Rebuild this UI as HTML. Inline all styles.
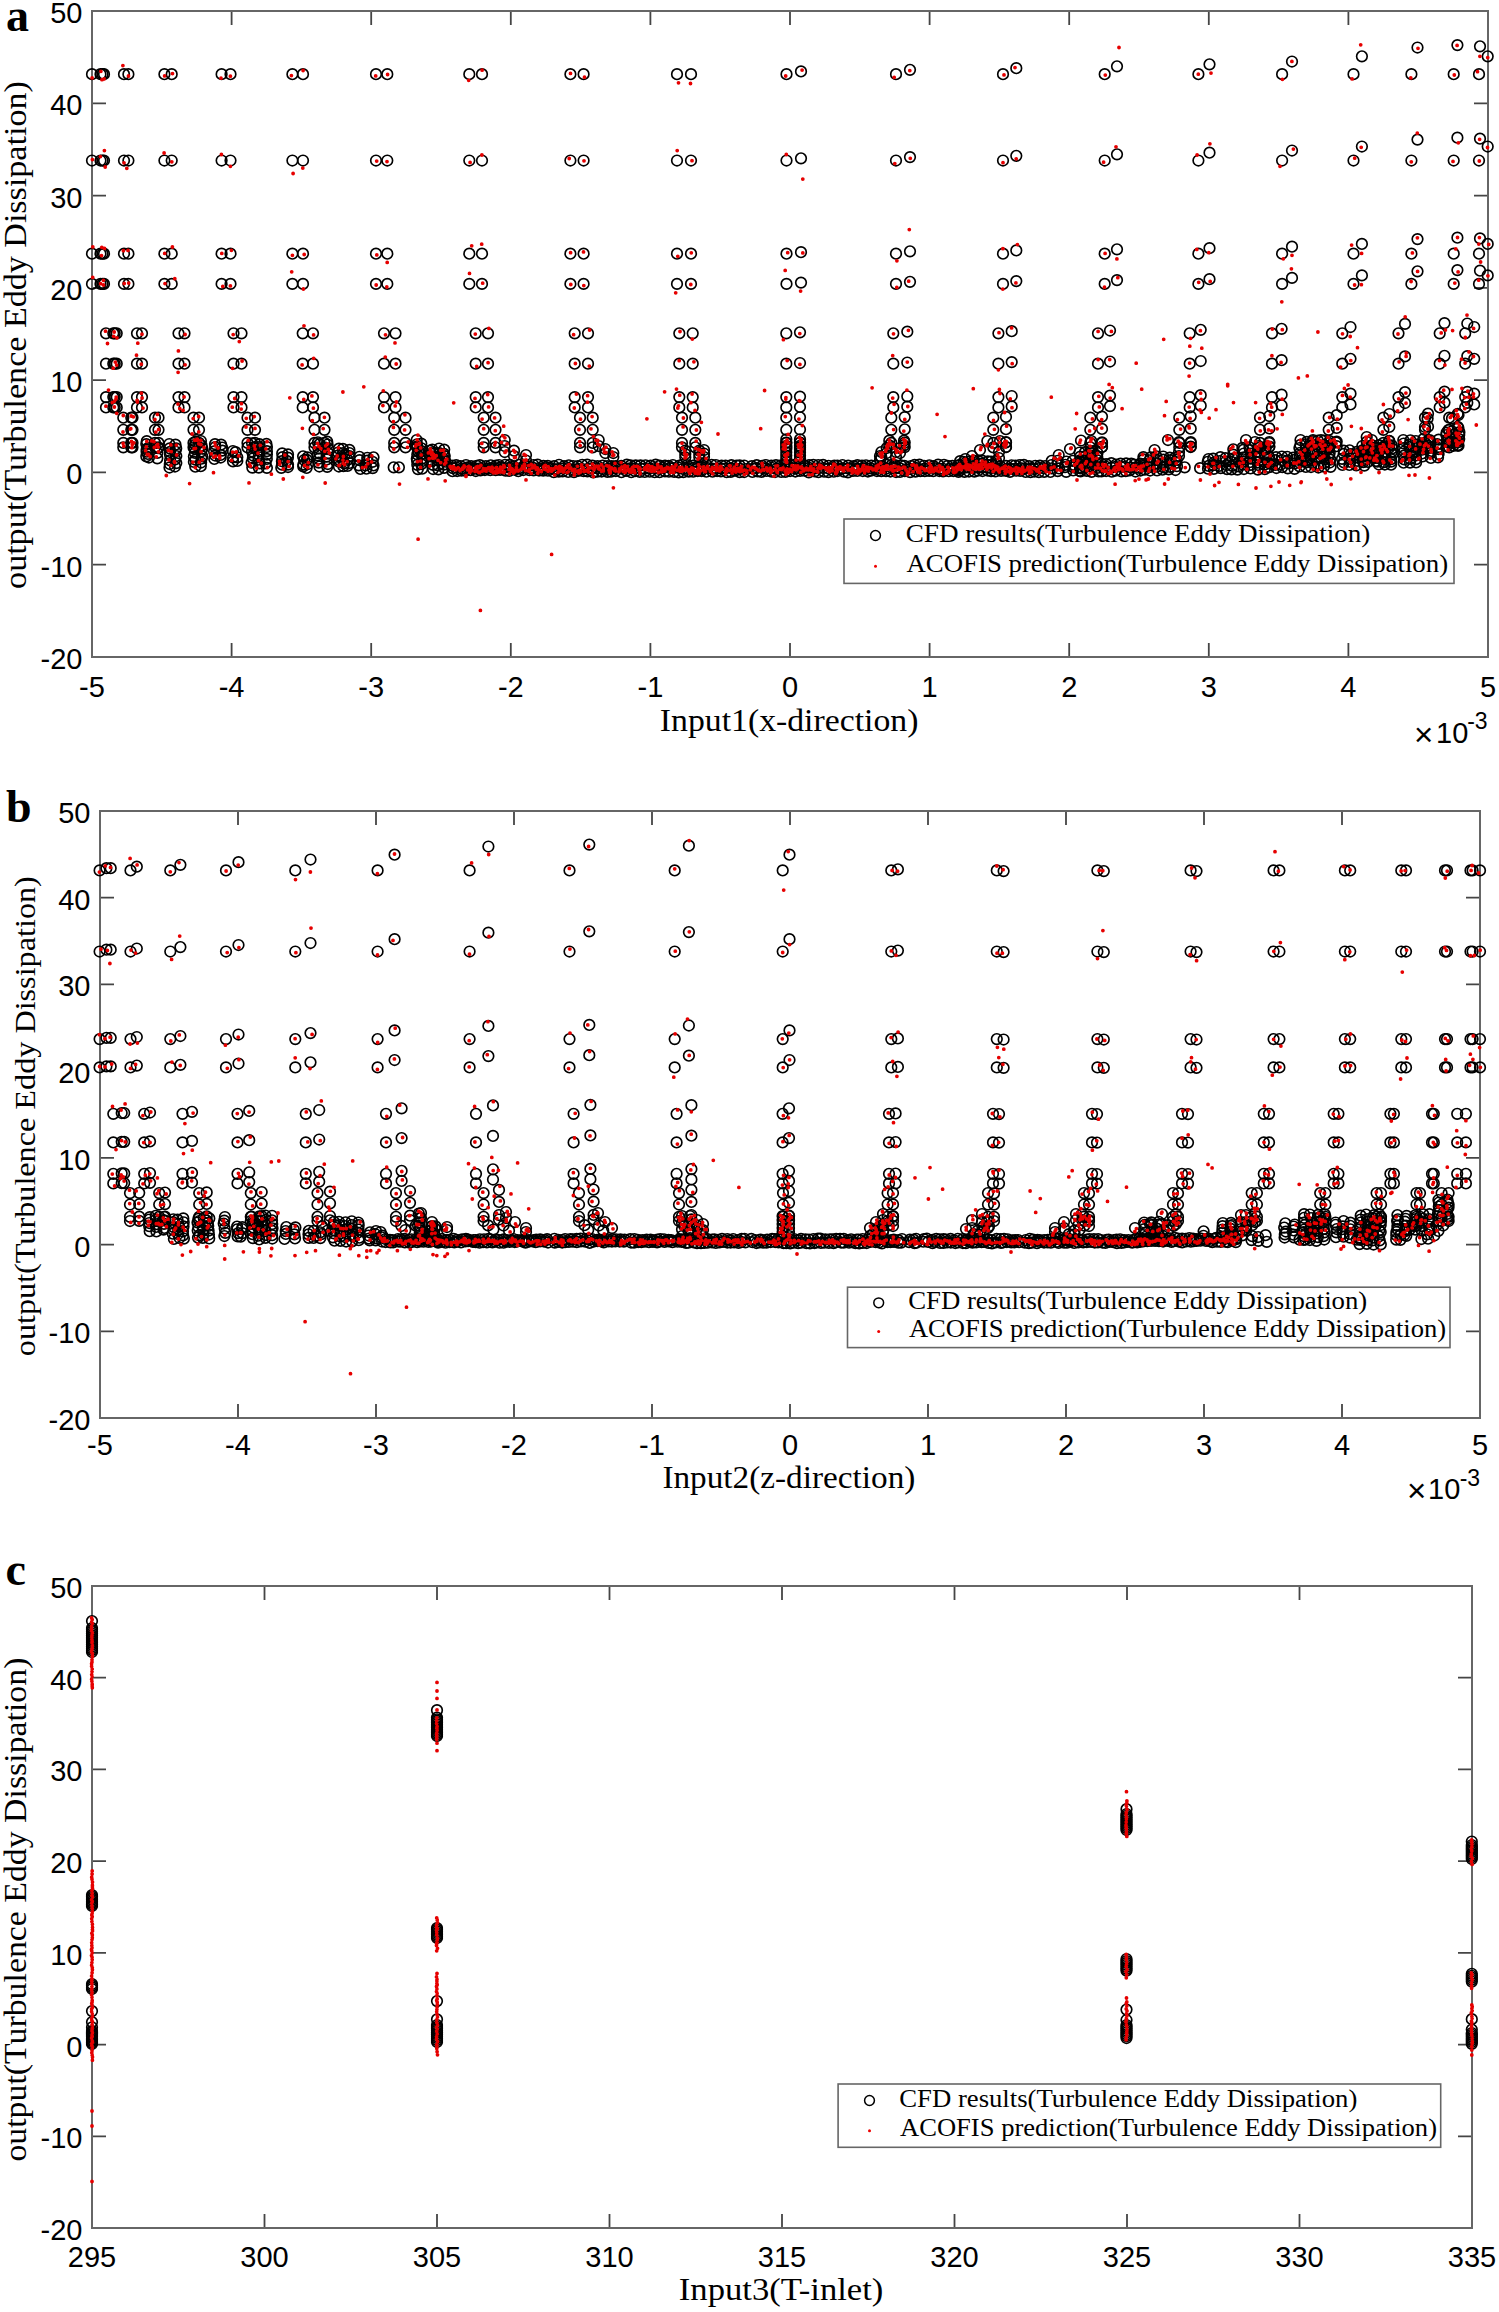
<!DOCTYPE html><html><head><meta charset="utf-8"><style>html,body{margin:0;padding:0;background:#fff;overflow:hidden}svg{display:block}.tl{font-family:"Liberation Sans",sans-serif;font-size:29px;fill:#000}.sf{font-family:"Liberation Serif",serif;fill:#000}.pl{font-family:"Liberation Serif",serif;font-weight:bold;font-size:46px;fill:#000}</style></head><body>
<svg width="1499" height="2312" viewBox="0 0 1499 2312">
<defs><marker id="o" markerUnits="userSpaceOnUse" markerWidth="14" markerHeight="14" refX="7" refY="7" overflow="visible"><circle cx="7" cy="7" r="5.3" fill="none" stroke="#000" stroke-width="1.65"/></marker></defs>
<rect width="1499" height="2312" fill="#fff"/>
<path d="M92 657.0h14M1488 657.0h-14M92 564.7h14M1488 564.7h-14M92 472.4h14M1488 472.4h-14M92 380.1h14M1488 380.1h-14M92 287.9h14M1488 287.9h-14M92 195.6h14M1488 195.6h-14M92 103.3h14M1488 103.3h-14M92 11.0h14M1488 11.0h-14M92.0 657v-14M92.0 11v14M231.6 657v-14M231.6 11v14M371.2 657v-14M371.2 11v14M510.8 657v-14M510.8 11v14M650.4 657v-14M650.4 11v14M790.0 657v-14M790.0 11v14M929.6 657v-14M929.6 11v14M1069.2 657v-14M1069.2 11v14M1208.8 657v-14M1208.8 11v14M1348.4 657v-14M1348.4 11v14M1488.0 657v-14M1488.0 11v14" stroke="#454545" stroke-width="1.8" fill="none"/>
<rect x="92" y="11" width="1396" height="646" fill="none" stroke="#666" stroke-width="2"/>
<path d="M100 1418.0h14M1480 1418.0h-14M100 1331.3h14M1480 1331.3h-14M100 1244.6h14M1480 1244.6h-14M100 1157.9h14M1480 1157.9h-14M100 1071.1h14M1480 1071.1h-14M100 984.4h14M1480 984.4h-14M100 897.7h14M1480 897.7h-14M100 811.0h14M1480 811.0h-14M100.0 1418v-14M100.0 811v14M238.0 1418v-14M238.0 811v14M376.0 1418v-14M376.0 811v14M514.0 1418v-14M514.0 811v14M652.0 1418v-14M652.0 811v14M790.0 1418v-14M790.0 811v14M928.0 1418v-14M928.0 811v14M1066.0 1418v-14M1066.0 811v14M1204.0 1418v-14M1204.0 811v14M1342.0 1418v-14M1342.0 811v14M1480.0 1418v-14M1480.0 811v14" stroke="#454545" stroke-width="1.8" fill="none"/>
<rect x="100" y="811" width="1380" height="607" fill="none" stroke="#666" stroke-width="2"/>
<path d="M92 2228.0h14M1472 2228.0h-14M92 2136.3h14M1472 2136.3h-14M92 2044.6h14M1472 2044.6h-14M92 1952.9h14M1472 1952.9h-14M92 1861.1h14M1472 1861.1h-14M92 1769.4h14M1472 1769.4h-14M92 1677.7h14M1472 1677.7h-14M92 1586.0h14M1472 1586.0h-14M92.0 2228v-14M92.0 1586v14M264.5 2228v-14M264.5 1586v14M437.0 2228v-14M437.0 1586v14M609.5 2228v-14M609.5 1586v14M782.0 2228v-14M782.0 1586v14M954.5 2228v-14M954.5 1586v14M1127.0 2228v-14M1127.0 1586v14M1299.5 2228v-14M1299.5 1586v14M1472.0 2228v-14M1472.0 1586v14" stroke="#454545" stroke-width="1.8" fill="none"/>
<rect x="92" y="1586" width="1380" height="642" fill="none" stroke="#666" stroke-width="2"/>
<path d="M92.0 74.2M92.0 160.5M92.0 253.7M92.0 283.9M100.5 74.2M100.5 160.5M100.5 253.7M100.5 283.9M102.5 74.2M102.5 160.5M102.5 253.7M102.5 283.9M104.0 74.2M104.0 160.5M104.0 253.7M104.0 283.9M106.0 333.3M106.0 363.7M106.0 397.1M106.0 407.4M113.3 333.3M113.3 363.7M113.3 397.1M113.3 407.4M114.7 333.3M114.7 363.7M114.7 397.1M114.7 407.4M116.7 333.3M116.7 363.7M116.7 397.1M116.7 407.4M123.3 417.7M123.3 429.8M123.3 442.9M123.3 447.3M131.3 417.7M131.3 429.8M131.3 442.9M131.3 447.3M132.5 417.7M132.5 429.8M132.5 442.9M132.5 447.3M124.0 74.2M124.0 160.5M124.0 253.7M124.0 283.9M128.4 74.2M128.4 160.5M128.4 253.7M128.4 283.9M137.0 333.3M137.0 363.7M137.0 397.1M137.0 407.4M142.0 333.3M142.0 363.7M142.0 397.1M142.0 407.4M155.0 417.7M155.0 429.8M155.0 442.9M155.0 447.3M158.5 417.7M158.5 429.8M158.5 442.9M158.5 447.3M164.4 74.2M164.4 160.5M164.4 253.7M164.4 283.9M171.7 74.2M171.7 160.5M171.7 253.7M171.7 283.9M178.5 333.3M178.5 363.7M178.5 397.1M178.5 407.4M184.5 333.3M184.5 363.7M184.5 397.1M184.5 407.4M193.5 417.7M193.5 429.8M193.5 442.9M193.5 447.3M199.0 417.7M199.0 429.8M199.0 442.9M199.0 447.3M221.6 74.2M221.6 160.5M221.6 253.7M221.6 283.9M230.5 74.2M230.5 160.5M230.5 253.7M230.5 283.9M233.5 333.3M233.5 363.7M233.5 397.1M233.5 407.4M241.5 333.3M241.5 363.7M241.5 397.1M241.5 407.4M247.5 417.7M247.5 429.8M247.5 442.9M247.5 447.3M255.0 417.7M255.0 429.8M255.0 442.9M255.0 447.3M292.4 74.2M292.4 160.5M292.4 253.7M292.4 283.9M303.0 74.2M303.0 160.5M303.0 253.7M303.0 283.9M302.7 333.3M302.7 363.7M302.7 397.1M302.7 407.4M313.0 333.3M313.0 363.7M313.0 397.1M313.0 407.4M314.5 417.7M314.5 429.8M314.5 442.9M314.5 447.3M324.5 417.7M324.5 429.8M324.5 442.9M324.5 447.3M376.0 74.2M376.0 160.5M376.0 253.7M376.0 283.9M387.3 74.2M387.3 160.5M387.3 253.7M387.3 283.9M384.0 333.3M384.0 363.7M384.0 397.1M384.0 407.4M395.5 333.3M395.5 363.7M395.5 397.1M395.5 407.4M394.2 417.7M394.2 429.8M394.2 442.9M394.2 447.3M405.5 417.7M405.5 429.8M405.5 442.9M405.5 447.3M469.3 74.2M469.3 160.5M469.3 253.7M469.3 283.9M482.0 74.2M482.0 160.5M482.0 253.7M482.0 283.9M475.7 333.3M475.7 363.7M475.7 397.1M475.7 407.4M488.0 333.3M488.0 363.7M488.0 397.1M488.0 407.4M483.7 417.7M483.7 429.8M483.7 442.9M483.7 447.3M495.5 417.7M495.5 429.8M495.5 442.9M495.5 447.3M570.4 74.2M570.4 160.5M570.4 253.7M570.4 283.9M583.6 74.2M583.6 160.5M583.6 253.7M583.6 283.9M574.7 333.3M574.7 363.7M574.7 397.1M574.7 407.4M588.0 333.3M588.0 363.7M588.0 397.1M588.0 407.4M580.0 417.7M580.0 429.8M580.0 442.9M580.0 447.3M592.7 417.7M592.7 429.8M592.7 442.9M592.7 447.3M677.0 74.2M677.0 160.5M677.0 253.7M677.0 283.9M691.0 74.2M691.0 160.5M691.0 253.7M691.0 283.9M679.3 333.3M679.3 363.7M679.3 397.1M679.3 407.4M692.7 333.3M692.7 363.7M692.7 397.1M692.7 407.4M682.0 417.7M682.0 429.8M682.0 442.9M682.0 447.3M695.3 417.7M695.3 429.8M695.3 442.9M695.3 447.3M786.5 74.2M786.5 160.5M786.5 253.7M786.5 283.9M801.0 71.4M801.0 158.3M801.0 252.2M801.0 282.6M786.3 333.3M786.3 363.7M786.3 397.1M786.3 407.4M800.0 332.3M800.0 363.0M800.0 396.6M800.0 406.9M786.3 417.7M786.3 429.8M786.3 442.9M786.3 447.3M800.0 417.3M800.0 429.5M800.0 442.7M800.0 447.2M896.0 74.2M896.0 160.5M896.0 253.7M896.0 283.9M910.0 69.8M910.0 157.1M910.0 251.3M910.0 281.8M893.3 333.3M893.3 363.7M893.3 397.1M893.3 407.4M907.3 331.7M907.3 362.5M907.3 396.3M907.3 406.7M891.3 417.7M891.3 429.8M891.3 442.9M891.3 447.3M904.7 417.1M904.7 429.3M904.7 442.6M904.7 447.1M1003.0 74.2M1003.0 160.5M1003.0 253.7M1003.0 283.9M1016.3 68.2M1016.3 155.8M1016.3 250.4M1016.3 281.1M998.4 333.3M998.4 363.7M998.4 397.1M998.4 407.4M1011.7 331.2M1011.7 362.1M1011.7 396.0M1011.7 406.4M993.3 417.7M993.3 429.8M993.3 442.9M993.3 447.3M1006.0 416.9M1006.0 429.2M1006.0 442.5M1006.0 447.0M1104.7 74.2M1104.7 160.5M1104.7 253.7M1104.7 283.9M1117.0 66.3M1117.0 154.3M1117.0 249.3M1117.0 280.1M1098.0 333.3M1098.0 363.7M1098.0 397.1M1098.0 407.4M1110.0 330.5M1110.0 361.5M1110.0 395.6M1110.0 406.1M1090.3 417.7M1090.3 429.8M1090.3 442.9M1090.3 447.3M1102.0 416.6M1102.0 428.9M1102.0 442.3M1102.0 446.8M1198.4 74.2M1198.4 160.5M1198.4 253.7M1198.4 283.9M1209.5 64.3M1209.5 152.7M1209.5 248.2M1209.5 279.2M1189.7 333.3M1189.7 363.7M1189.7 397.1M1189.7 407.4M1200.7 329.8M1200.7 361.0M1200.7 395.2M1200.7 405.7M1179.3 417.7M1179.3 429.8M1179.3 442.9M1179.3 447.3M1190.7 416.3M1190.7 428.7M1190.7 442.2M1190.7 446.7M1282.1 74.2M1282.1 160.5M1282.1 253.7M1282.1 283.9M1292.0 61.5M1292.0 150.5M1292.0 246.7M1292.0 277.9M1272.0 333.3M1272.0 363.7M1272.0 397.1M1272.0 407.4M1281.6 328.8M1281.6 360.2M1281.6 394.7M1281.6 405.3M1260.0 417.7M1260.0 429.8M1260.0 442.9M1260.0 447.3M1269.3 416.0M1269.3 428.4M1269.3 442.0M1269.3 446.5M1353.5 74.2M1353.5 160.5M1353.5 253.7M1353.5 283.9M1361.9 56.3M1361.9 146.5M1361.9 243.9M1361.9 275.4M1342.3 333.3M1342.3 363.7M1342.3 397.1M1342.3 407.4M1350.5 327.0M1350.5 358.8M1350.5 393.7M1350.5 404.4M1328.7 417.7M1328.7 429.8M1328.7 442.9M1328.7 447.3M1336.7 415.2M1336.7 427.9M1336.7 441.6M1336.7 446.2M1411.4 74.2M1411.4 160.5M1411.4 253.7M1411.4 283.9M1417.5 47.5M1417.5 139.6M1417.5 239.1M1417.5 271.3M1398.5 333.3M1398.5 363.7M1398.5 397.1M1398.5 407.4M1405.0 323.9M1405.0 356.4M1405.0 392.1M1405.0 403.0M1383.4 417.7M1383.4 429.8M1383.4 442.9M1383.4 447.3M1389.3 414.0M1389.3 426.9M1389.3 440.9M1389.3 445.6M1453.7 74.2M1453.7 160.5M1453.7 253.7M1453.7 283.9M1457.4 45.1M1457.4 137.7M1457.4 237.7M1457.4 270.1M1439.7 333.3M1439.7 363.7M1439.7 397.1M1439.7 407.4M1444.5 323.1M1444.5 355.8M1444.5 391.6M1444.5 402.6M1425.0 417.7M1425.0 429.8M1425.0 442.9M1425.0 447.3M1428.0 413.7M1428.0 426.7M1428.0 440.7M1428.0 445.5M1479.0 74.2M1479.0 160.5M1479.0 253.7M1479.0 283.9M1480.0 46.3M1480.0 138.7M1480.0 238.4M1480.0 270.7M1487.7 56.3M1487.7 146.5M1487.7 243.9M1487.7 275.4M1465.2 333.3M1465.2 363.7M1465.2 397.1M1465.2 407.4M1467.3 323.5M1467.3 356.1M1467.3 391.9M1467.3 402.8M1474.2 327.0M1474.2 358.8M1474.2 393.7M1474.2 404.4M1449.2 417.7M1449.2 429.8M1449.2 442.9M1449.2 447.3M1457.7 413.9M1457.7 426.8M1457.7 440.8M1457.7 445.6M416.7 440.0M416.7 446.7M430.0 450.7M430.0 456.0M435.3 453.0M435.3 457.0M444.7 456.0M444.7 460.0M504.7 440.0M504.7 446.0M504.7 452.0M514.0 450.7M514.0 456.0M526.0 455.0M526.0 460.5M526.0 466.0M598.7 440.0M598.7 446.0M605.3 449.0M605.3 453.0M613.3 453.0M613.3 457.0M685.3 450.7M685.3 454.0M685.3 457.3M699.3 450.7M699.3 454.0M699.3 457.3M704.0 450.0M704.0 453.5M704.0 457.0M786.3 439.3M786.3 442.5M786.3 445.8M786.3 449.0M786.3 452.3M786.3 455.5M786.3 458.8M786.3 462.0M800.0 439.3M800.0 442.5M800.0 445.8M800.0 449.0M800.0 452.3M800.0 455.5M800.0 458.8M800.0 462.0M889.3 440.7M889.3 445.3M904.0 440.7M904.0 445.3M886.7 448.0M886.7 453.0M900.0 448.0M900.0 453.0M881.3 452.0M881.3 457.0M896.0 452.0M896.0 457.0M880.0 456.0M880.0 460.0M987.3 441.0M1000.0 441.0M1006.0 442.0M1006.0 447.0M980.0 450.0M972.0 456.0M999.0 452.0M999.0 458.0M965.3 459.0M965.3 463.0M1081.0 440.5M1091.3 441.0M1102.0 443.0M1102.0 447.0M1070.0 449.0M1058.7 455.0M1091.3 451.0M1091.3 455.5M1091.3 460.0M1168.0 440.0M1179.0 442.0M1190.7 443.0M1190.7 447.0M1179.0 452.0M1179.0 456.0M1154.6 450.0M1246.0 440.0M1255.0 442.0M1258.7 446.0M1269.3 443.0M1269.3 447.0M1233.3 449.3M1233.3 454.7M1336.0 442.4M1321.0 440.0M1321.0 446.0M1313.0 440.0M1313.0 445.0M1371.8 440.0M1371.8 445.0M1371.8 450.0M1366.7 437.0M1366.7 441.9M1366.7 446.7M1389.0 441.0M1389.0 448.0M1427.6 418.4M1425.0 427.0M1458.5 415.0M1452.0 418.4M1448.4 430.0M1458.4 428.0M1450.0 442.0M1458.0 445.0M146.8 441.2M146.3 444.1M146.7 449.4M146.6 451.7M146.3 456.3M148.0 448.1M147.8 453.9M148.9 457.5M158.1 448.1M157.4 452.8M157.3 458.3M169.3 444.0M169.7 448.4M170.1 451.9M170.0 454.7M170.1 460.3M169.8 464.0M169.5 467.5M175.5 444.7M176.2 448.4M175.3 451.5M176.3 456.0M175.1 459.3M176.3 463.1M175.0 466.5M195.5 441.6M195.4 444.5M194.7 448.8M194.9 452.9M193.9 456.5M195.5 459.6M193.9 461.9M195.3 466.7M200.9 441.0M201.6 445.6M202.3 448.5M201.3 451.4M202.2 456.3M201.5 458.7M201.1 462.5M200.8 466.2M215.0 444.1M215.2 447.1M214.1 451.4M215.2 455.5M214.3 458.9M221.1 444.6M222.1 447.5M222.3 450.6M220.6 454.9M220.7 457.5M232.9 451.0M233.1 457.4M233.0 461.3M235.6 452.2M237.3 457.3M237.3 460.9M252.1 443.4M253.5 447.3M252.0 451.4M253.0 455.5M252.8 458.4M251.6 462.6M252.3 467.6M259.5 444.1M259.0 447.2M259.4 451.0M258.9 455.1M258.5 459.7M259.7 463.3M258.8 467.6M266.4 443.9M266.9 447.0M266.9 451.2M266.9 454.6M266.8 458.9M265.6 463.3M266.9 467.8M282.2 453.4M282.5 457.2M281.9 461.2M282.0 464.6M281.3 467.8M288.0 454.4M287.9 457.7M286.7 460.9M288.0 464.6M288.0 467.0M303.1 456.3M304.2 460.0M303.4 464.6M303.2 466.3M307.6 457.4M306.9 459.9M308.0 464.0M306.6 467.9M317.9 442.3M319.4 444.2M318.4 448.3M319.4 453.3M317.7 455.3M318.9 458.7M318.7 462.6M319.4 466.5M327.2 441.6M327.6 444.5M328.2 448.7M328.2 453.1M326.5 456.7M326.9 459.4M327.8 464.0M327.2 466.8M338.9 448.6M338.0 452.5M337.7 455.6M338.9 459.6M339.0 461.6M338.9 466.5M342.9 448.9M343.0 453.1M344.4 455.1M342.7 460.0M344.1 463.3M343.4 466.2M349.4 449.9M349.4 453.0M349.4 456.1M347.6 459.8M349.2 463.0M347.5 465.9M359.4 456.8M359.5 460.1M358.7 465.3M360.4 468.9M367.3 457.8M367.3 460.7M365.5 465.4M366.4 468.7M373.5 457.3M372.6 461.8M373.5 465.4M372.7 468.1M393.7 467.3M398.9 467.3M417.0 444.3M417.3 447.4M418.4 451.8M417.3 454.4M416.8 458.8M417.1 460.5M417.3 464.8M417.9 469.1M421.3 443.7M421.6 448.3M421.6 451.2M421.4 453.8M422.4 458.4M422.4 461.0M421.3 464.2M422.2 468.7M432.3 449.5M432.9 452.3M433.0 457.0M431.9 460.8M433.0 464.8M433.1 469.0M439.1 448.5M439.4 453.1M439.2 456.7M438.3 460.6M437.9 465.3M438.4 469.3M444.2 449.6M444.0 453.9M444.1 456.0M445.3 461.7M443.8 464.6M444.1 467.8M452.0 465.5M452.8 468.2M452.5 471.2M456.2 465.1M456.4 467.5M457.2 471.0M460.7 466.0M461.7 468.7M461.5 470.6M466.0 465.0M466.7 467.6M465.5 470.6M471.2 466.1M471.2 468.1M470.5 470.2M476.7 465.8M476.1 468.6M475.8 471.0M479.8 465.1M480.2 468.3M480.5 470.4M485.8 466.1M486.6 468.6M484.9 470.0M490.8 465.3M491.3 468.1M490.3 470.1M495.9 465.6M495.4 468.2M495.7 470.1M499.0 465.0M500.0 467.5M500.1 469.8M505.2 464.8M503.9 467.8M505.5 470.7M509.9 464.8M509.9 467.7M509.2 470.9M513.6 466.3M514.0 468.7M514.8 469.7M519.0 464.8M518.9 468.5M518.3 471.2M524.6 465.2M523.3 467.4M523.3 470.0M527.9 466.3M529.8 468.0M529.3 470.1M533.5 465.0M532.7 467.7M533.6 470.3M537.6 464.7M538.3 468.3M539.0 470.5M543.5 465.9M543.7 468.2M543.2 470.6M547.8 465.9M547.8 467.8M547.9 470.7M554.0 466.1M554.0 469.1M553.8 472.2M559.0 464.8M557.8 469.1M558.8 471.6M564.1 466.2M562.7 468.5M562.6 471.3M568.8 465.3M567.5 468.2M568.2 471.9M573.2 466.0M573.0 469.3M574.0 472.2M577.7 466.2M578.1 468.8M578.1 470.9M582.2 464.8M582.5 469.0M583.6 471.2M587.2 464.7M588.4 468.6M587.4 471.3M592.4 465.5M592.3 468.1M593.3 472.3M597.5 466.2M596.5 468.2M597.4 471.6M602.7 465.5M602.7 469.1M601.6 471.5M607.2 466.1M607.8 468.9M607.4 471.8M611.7 466.1M610.9 468.8M611.0 471.7M615.7 466.2M615.5 468.2M615.8 471.0M621.2 465.9M622.1 468.5M621.4 472.2M626.8 464.7M626.4 468.7M626.2 470.8M630.6 465.4M630.8 468.1M631.2 472.2M635.7 465.4M634.9 468.5M635.1 471.2M640.5 465.4M640.9 468.8M639.8 471.8M645.5 465.3M644.4 468.5M644.7 471.9M650.6 465.6M649.5 468.6M649.7 471.7M655.7 464.7M655.1 468.0M654.7 472.2M659.8 465.7M659.2 468.9M659.6 472.2M665.0 465.7M663.3 467.8M665.0 471.3M668.5 465.9M669.9 468.0M668.9 471.7M672.9 465.0M673.2 468.1M674.1 471.8M679.4 465.5M679.3 467.8M678.7 472.3M682.6 464.8M682.9 468.8M683.3 472.1M687.0 465.2M687.3 468.8M688.8 471.6M693.2 465.6M693.3 467.9M693.2 471.7M698.2 466.1M697.2 468.9M697.7 471.0M701.8 465.1M702.3 469.2M701.5 471.0M706.4 464.8M707.8 468.2M706.3 471.7M711.7 464.8M712.3 468.6M712.5 471.7M715.9 465.0M716.5 468.7M717.1 471.0M721.6 465.7M720.8 468.4M720.9 471.4M725.6 465.5M725.2 468.5M726.7 472.2M731.4 465.2M731.1 468.1M730.8 471.8M736.4 465.5M735.8 469.0M735.3 470.7M739.6 465.4M740.4 468.8M739.7 472.1M744.2 465.5M746.0 469.0M744.2 472.0M751.8 466.1M753.0 468.6M752.4 471.9M756.7 465.1M756.2 468.1M757.6 471.3M762.1 465.8M762.2 467.9M761.4 471.8M766.0 465.0M765.8 468.7M766.6 470.9M771.3 465.5M771.6 467.8M771.6 471.7M776.0 465.1M776.4 468.9M775.0 472.0M781.0 465.4M779.9 468.2M781.2 471.9M785.4 464.8M786.2 468.7M785.4 471.8M790.7 465.4M790.7 467.7M790.1 471.0M794.4 464.9M795.3 468.3M795.4 471.5M799.9 466.2M800.8 468.5M800.1 470.8M804.8 465.9M804.0 468.0M804.4 470.7M809.0 465.2M809.1 467.8M808.8 472.3M813.3 464.8M814.3 468.6M814.7 471.3M818.3 465.0M818.4 468.1M818.4 472.2M823.1 464.9M823.2 468.0M824.1 471.7M828.6 465.8M828.5 468.5M828.4 472.1M834.3 465.5M833.7 467.8M833.8 471.7M837.4 465.6M838.5 469.1M837.5 471.0M842.5 465.0M842.5 468.4M843.9 471.6M848.2 465.7M848.0 468.3M847.9 472.3M853.6 466.1M853.3 468.2M853.0 470.9M857.4 465.1M857.7 468.9M857.2 470.9M862.0 465.6M862.8 468.2M862.8 471.0M866.0 465.3M866.2 468.3M867.9 471.5M871.4 465.5M870.9 468.3M870.9 470.7M875.7 465.9M876.3 469.1M876.9 471.0M881.8 466.1M880.9 467.9M881.3 471.1M886.2 464.7M886.5 468.5M886.0 471.1M891.7 464.9M891.7 467.7M890.4 471.5M894.9 465.2M894.9 468.7M896.1 472.0M900.9 465.4M899.6 468.2M900.0 471.9M904.5 465.9M905.8 469.3M904.8 471.1M911.0 466.0M910.6 468.9M910.1 472.1M914.6 464.9M915.8 467.9M915.5 471.6M919.4 464.7M919.3 469.0M920.4 471.1M924.0 465.8M924.6 468.6M924.8 471.2M929.3 465.3M929.3 468.2M929.2 470.8M933.6 466.2M934.7 468.1M933.2 471.2M938.1 464.7M939.5 468.8M939.3 471.0M944.0 464.8M942.9 468.8M943.1 471.3M947.6 465.9M949.1 468.8M948.8 471.2M952.3 465.9M954.1 468.6M953.3 471.0M957.9 465.7M958.4 469.3M958.5 471.8M960.1 461.1M959.2 465.0M959.2 468.0M959.7 470.4M963.6 461.8M965.2 464.8M963.9 467.9M964.5 471.8M969.4 461.5M969.5 464.5M968.0 467.3M969.0 471.5M973.7 460.7M973.2 464.0M973.2 468.2M974.4 471.6M978.6 461.1M979.0 463.6M978.3 467.6M977.9 470.7M982.2 460.6M982.3 463.6M982.5 467.4M982.5 471.0M987.9 461.4M987.7 464.8M987.8 467.7M987.5 470.5M991.2 461.5M992.3 464.6M991.0 468.0M991.1 471.1M996.0 460.8M995.7 464.3M995.7 468.1M995.4 471.4M1000.3 466.1M1000.3 468.6M1001.1 470.8M1006.0 465.9M1006.6 469.1M1006.1 470.8M1011.5 465.3M1009.9 468.6M1010.0 471.8M1015.2 465.5M1014.9 468.8M1015.9 470.7M1020.0 465.0M1020.6 468.2M1020.2 470.8M1023.9 464.9M1024.5 468.6M1025.6 471.9M1029.2 466.1M1030.3 468.7M1030.5 472.1M1035.3 465.8M1034.6 469.1M1034.5 471.5M1039.9 465.7M1038.9 468.1M1038.9 472.1M1045.0 466.0M1043.4 468.2M1044.2 471.8M1051.7 460.8M1051.6 465.0M1051.7 468.3M1050.4 471.9M1057.7 460.8M1057.5 464.2M1059.1 468.4M1057.7 471.1M1066.4 461.5M1065.4 464.8M1065.0 467.1M1066.2 471.8M1072.7 460.8M1073.7 464.8M1073.5 467.3M1073.2 470.4M1079.7 461.4M1080.3 464.5M1080.4 468.3M1080.6 471.3M1079.6 452.5M1080.3 456.7M1079.9 460.3M1079.3 463.8M1080.0 467.3M1079.7 470.8M1085.0 452.1M1085.9 455.9M1085.2 459.9M1085.9 463.4M1085.2 467.2M1086.6 470.8M1091.5 453.2M1091.3 457.1M1092.6 460.9M1091.8 464.6M1092.3 466.9M1091.6 471.8M1097.5 453.0M1097.3 457.2M1097.2 460.2M1097.9 464.7M1097.3 467.9M1098.6 471.3M1101.1 463.5M1102.6 467.1M1101.5 471.4M1106.1 464.2M1106.1 466.8M1106.1 471.0M1111.3 463.2M1111.5 467.6M1111.8 471.7M1116.1 464.5M1115.4 466.8M1115.6 470.6M1120.6 463.6M1120.8 466.8M1121.5 471.3M1126.2 463.4M1125.0 466.8M1125.8 471.1M1131.3 463.7M1131.3 467.6M1129.7 470.3M1134.3 464.7M1136.0 467.3M1135.5 471.5M1140.2 463.6M1139.2 467.8M1140.5 470.5M1143.4 457.1M1143.7 459.4M1143.6 464.2M1143.1 465.9M1144.9 469.6M1150.7 457.4M1149.5 460.3M1149.8 463.1M1149.6 467.1M1150.1 470.5M1156.4 456.3M1157.6 460.0M1156.5 463.3M1156.7 466.7M1157.0 470.4M1163.2 456.5M1163.4 459.6M1162.6 463.7M1163.7 467.4M1162.5 469.7M1169.8 457.7M1170.5 460.2M1169.8 463.2M1169.9 466.8M1168.7 469.3M1175.1 457.9M1176.8 459.6M1176.0 462.8M1177.0 466.2M1175.5 470.0M1184.7 467.3M1200.1 468.2M1208.5 459.0M1207.7 461.8M1208.6 465.9M1208.0 468.7M1213.2 458.7M1213.9 462.6M1213.3 465.2M1213.8 468.8M1220.4 457.2M1219.7 461.0M1219.2 465.9M1220.8 468.1M1225.5 458.2M1225.9 461.5M1226.4 465.0M1227.0 469.1M1232.7 458.5M1231.1 461.6M1232.2 465.8M1231.5 469.3M1237.3 458.9M1238.8 461.8M1238.3 466.3M1237.4 469.6M1242.4 447.9M1243.6 449.7M1243.8 453.5M1243.7 457.4M1243.4 461.7M1242.9 464.7M1243.9 469.0M1249.5 447.3M1250.0 450.1M1251.1 453.5M1250.5 458.7M1249.8 462.2M1250.9 464.8M1250.5 468.4M1258.0 447.8M1257.4 451.5M1257.7 454.6M1258.5 457.6M1257.5 462.5M1258.6 465.0M1257.9 469.6M1265.8 447.7M1264.9 449.8M1264.6 453.4M1265.0 458.0M1264.4 462.1M1264.5 464.6M1264.8 469.2M1269.0 456.8M1270.8 461.7M1270.0 463.6M1269.2 467.1M1276.1 457.1M1275.2 460.2M1275.3 464.9M1276.4 468.0M1281.9 456.5M1281.8 460.0M1281.0 464.5M1282.3 467.1M1287.2 456.8M1287.5 460.6M1288.7 463.3M1287.8 468.3M1293.2 457.6M1294.5 459.8M1294.7 463.4M1294.5 468.8M1300.5 440.0M1300.4 444.9M1299.4 448.0M1300.1 452.8M1299.7 455.8M1301.0 460.4M1299.2 462.5M1299.6 466.4M1306.8 441.9M1305.7 444.3M1305.8 449.0M1305.1 452.3M1305.9 456.6M1306.7 460.4M1306.1 462.4M1305.8 466.9M1313.0 441.1M1311.2 443.8M1312.0 448.7M1312.8 452.3M1311.1 455.0M1311.0 460.2M1312.2 463.1M1311.0 467.0M1317.9 440.6M1317.2 444.3M1318.2 447.7M1317.5 452.1M1317.6 456.8M1318.8 458.6M1317.8 463.7M1318.4 467.5M1324.0 440.6M1324.5 445.2M1324.5 449.3M1323.8 452.9M1323.8 456.8M1324.8 459.1M1324.2 463.1M1323.9 466.6M1329.7 441.1M1329.9 445.6M1329.1 448.4M1329.7 452.8M1329.1 455.7M1330.3 459.6M1329.8 462.5M1330.6 466.8M1343.8 450.7M1343.7 453.9M1342.0 458.8M1343.8 462.3M1342.4 464.9M1349.6 450.3M1350.9 454.1M1349.2 458.7M1350.3 461.8M1349.4 464.9M1356.8 451.9M1357.2 454.0M1357.4 457.6M1357.2 460.8M1356.3 465.3M1363.3 451.4M1363.2 455.5M1364.9 458.7M1363.3 462.1M1364.3 465.6M1362.3 446.0M1362.3 450.3M1361.3 453.4M1362.9 456.8M1362.5 460.7M1368.7 447.1M1369.4 450.6M1369.1 454.8M1368.0 456.9M1367.9 461.9M1374.7 447.8M1374.2 450.1M1375.5 453.9M1374.7 458.0M1375.6 461.1M1378.8 445.2M1377.6 447.8M1378.9 452.1M1377.8 455.7M1378.4 458.2M1377.4 461.7M1378.9 464.5M1385.0 445.3M1384.4 447.4M1385.2 452.1M1385.4 455.8M1384.3 458.5M1384.0 462.1M1384.8 464.5M1391.8 445.4M1392.2 448.4M1391.3 452.4M1392.7 454.1M1391.1 459.2M1391.2 461.6M1391.1 464.7M1403.3 440.0M1403.7 443.5M1403.2 448.2M1404.2 451.5M1403.8 455.6M1404.2 459.3M1403.6 462.7M1410.4 440.3M1409.4 444.7M1409.4 446.8M1410.6 451.4M1411.0 455.5M1410.1 458.8M1410.0 462.6M1415.9 441.0M1416.9 444.7M1415.9 447.9M1415.5 451.8M1415.7 455.5M1416.1 459.1M1416.1 462.4M1423.3 439.1M1422.1 443.7M1422.3 446.6M1422.2 449.7M1422.2 453.4M1422.7 456.4M1429.8 440.1M1430.4 442.5M1430.1 447.5M1431.5 450.9M1430.8 452.8M1430.9 457.9M1438.6 439.6M1437.2 444.2M1437.7 447.5M1438.8 449.2M1438.6 454.0M1438.0 457.4M1446.6 432.7M1446.3 435.0M1447.1 439.6M1447.0 441.8M1446.6 446.5M1452.0 431.3M1453.9 434.8M1452.3 439.2M1453.5 443.2M1453.2 445.8M1459.4 432.2M1459.2 435.1M1459.2 439.1M1458.2 442.2M1458.5 445.7M99.6 870.4M99.6 951.5M99.6 1039.1M99.6 1067.4M106.4 868.2M106.4 949.7M106.4 1037.8M106.4 1066.4M110.7 868.2M110.7 949.7M110.7 1037.8M110.7 1066.4M113.3 1113.8M113.3 1142.4M113.3 1173.8M113.3 1183.4M121.7 1113.0M121.7 1141.8M121.7 1173.4M121.7 1183.1M124.2 1113.0M124.2 1141.8M124.2 1173.4M124.2 1183.1M130.0 1193.1M130.0 1204.5M130.0 1216.8M130.0 1221.0M139.2 1192.8M139.2 1204.3M139.2 1216.7M139.2 1220.8M130.5 870.4M130.5 951.5M130.5 1039.1M130.5 1067.4M136.8 866.7M136.8 948.5M136.8 1037.0M136.8 1065.6M144.2 1113.8M144.2 1142.4M144.2 1173.8M144.2 1183.4M150.0 1112.5M150.0 1141.4M150.0 1173.1M150.0 1182.8M159.2 1193.1M159.2 1204.5M159.2 1216.8M159.2 1221.0M165.0 1192.6M165.0 1204.1M165.0 1216.5M165.0 1220.7M170.3 870.4M170.3 951.5M170.3 1039.1M170.3 1067.4M180.4 864.8M180.4 947.1M180.4 1036.0M180.4 1064.8M182.5 1113.8M182.5 1142.4M182.5 1173.8M182.5 1183.4M192.0 1111.8M192.0 1140.9M192.0 1172.8M192.0 1182.5M199.2 1193.1M199.2 1204.5M199.2 1216.8M199.2 1221.0M206.7 1192.4M206.7 1203.9M206.7 1216.4M206.7 1220.6M226.0 870.4M226.0 951.5M226.0 1039.1M226.0 1067.4M238.5 862.2M238.5 945.0M238.5 1034.5M238.5 1063.5M237.5 1113.8M237.5 1142.4M237.5 1173.8M237.5 1183.4M249.2 1110.9M249.2 1140.2M249.2 1172.3M249.2 1182.1M250.8 1193.1M250.8 1204.5M250.8 1216.8M250.8 1221.0M261.7 1192.0M261.7 1203.6M261.7 1216.2M261.7 1220.5M295.3 870.4M295.3 951.5M295.3 1039.1M295.3 1067.4M310.5 859.5M310.5 943.0M310.5 1033.1M310.5 1062.3M305.8 1113.8M305.8 1142.4M305.8 1173.8M305.8 1183.4M319.2 1110.0M319.2 1139.5M319.2 1171.8M319.2 1181.7M317.5 1193.1M317.5 1204.5M317.5 1216.8M317.5 1221.0M330.0 1191.7M330.0 1203.3M330.0 1216.0M330.0 1220.3M322.2 1226.4M327.7 1230.5M334.4 1224.8M340.1 1229.7M377.6 870.4M377.6 951.5M377.6 1039.1M377.6 1067.4M394.6 854.7M394.6 939.2M394.6 1030.4M394.6 1060.0M386.0 1113.8M386.0 1142.4M386.0 1173.8M386.0 1183.4M401.6 1108.3M401.6 1138.1M401.6 1170.8M401.6 1180.9M396.0 1193.1M396.0 1204.5M396.0 1216.8M396.0 1221.0M410.0 1191.0M410.0 1202.8M410.0 1215.7M410.0 1220.0M401.4 1225.9M405.3 1230.0M415.8 1225.7M420.2 1230.4M469.6 870.4M469.6 951.5M469.6 1039.1M469.6 1067.4M488.4 846.5M488.4 932.7M488.4 1025.9M488.4 1056.1M476.0 1113.8M476.0 1142.4M476.0 1173.8M476.0 1183.4M493.0 1105.4M493.0 1135.9M493.0 1169.3M493.0 1179.5M483.6 1193.1M483.6 1204.5M483.6 1216.8M483.6 1221.0M499.0 1189.9M499.0 1201.9M499.0 1215.0M499.0 1219.5M488.1 1225.4M493.4 1229.5M503.5 1225.5M509.0 1230.7M569.5 870.4M569.5 951.5M569.5 1039.1M569.5 1067.4M589.3 844.6M589.3 931.3M589.3 1024.9M589.3 1055.2M573.6 1113.8M573.6 1142.4M573.6 1173.8M573.6 1183.4M590.4 1104.8M590.4 1135.4M590.4 1168.9M590.4 1179.2M579.0 1193.1M579.0 1204.5M579.0 1216.8M579.0 1221.0M593.6 1189.6M593.6 1201.7M593.6 1214.9M593.6 1219.4M584.5 1225.2M588.2 1229.9M598.9 1225.5M603.2 1230.4M674.7 870.4M674.7 951.5M674.7 1039.1M674.7 1067.4M688.9 845.7M688.9 932.1M688.9 1025.5M688.9 1055.7M676.6 1113.8M676.6 1142.4M676.6 1173.8M676.6 1183.4M691.4 1105.2M691.4 1135.7M691.4 1169.1M691.4 1179.4M679.0 1193.1M679.0 1204.5M679.0 1216.8M679.0 1221.0M691.4 1189.8M691.4 1201.9M691.4 1215.0M691.4 1219.4M684.1 1225.6M688.4 1230.7M696.9 1225.3M700.7 1229.9M782.7 870.4M782.7 951.5M782.7 1039.1M782.7 1067.4M789.5 854.7M789.5 939.2M789.5 1030.4M789.5 1060.0M782.6 1113.8M782.6 1142.4M782.6 1173.8M782.6 1183.4M789.0 1108.3M789.0 1138.1M789.0 1170.8M789.0 1180.9M783.0 1193.1M783.0 1204.5M783.0 1216.8M783.0 1221.0M789.0 1191.0M789.0 1202.8M789.0 1215.7M789.0 1220.0M891.3 870.4M891.3 951.5M891.3 1039.1M891.3 1067.4M897.9 869.3M897.9 950.6M897.9 1038.4M897.9 1066.9M889.0 1113.8M889.0 1142.4M889.0 1173.8M889.0 1183.4M895.6 1113.4M895.6 1142.1M895.6 1173.6M895.6 1183.3M887.6 1193.1M887.6 1204.5M887.6 1216.8M887.6 1221.0M893.0 1193.0M893.0 1204.4M893.0 1216.7M893.0 1220.9M881.8 1225.4M877.0 1229.8M872.4 1234.3M888.8 1225.2M883.4 1230.1M877.7 1234.3M996.8 870.4M996.8 951.5M996.8 1039.1M996.8 1067.4M1003.6 871.1M1003.6 952.1M1003.6 1039.5M1003.6 1067.8M993.0 1113.8M993.0 1142.4M993.0 1173.8M993.0 1183.4M999.0 1114.1M999.0 1142.6M999.0 1174.0M999.0 1183.6M988.0 1193.1M988.0 1204.5M988.0 1216.8M988.0 1221.0M994.0 1193.3M994.0 1204.6M994.0 1216.9M994.0 1221.0M983.7 1226.1M977.7 1230.7M973.7 1234.2M967.8 1239.9M989.0 1226.2M984.1 1229.9M979.7 1234.7M974.4 1239.4M1097.4 870.4M1097.4 951.5M1097.4 1039.1M1097.4 1067.4M1103.8 871.1M1103.8 952.1M1103.8 1039.5M1103.8 1067.8M1092.0 1113.8M1092.0 1142.4M1092.0 1173.8M1092.0 1183.4M1097.0 1114.1M1097.0 1142.6M1097.0 1174.0M1097.0 1183.6M1084.0 1193.1M1084.0 1204.5M1084.0 1216.8M1084.0 1221.0M1089.0 1193.3M1089.0 1204.6M1089.0 1216.9M1089.0 1221.0M1078.5 1224.9M1074.5 1230.7M1068.9 1234.2M1064.2 1239.0M1084.4 1225.7M1079.5 1229.8M1074.6 1234.4M1069.4 1239.2M1190.6 870.4M1190.6 951.5M1190.6 1039.1M1190.6 1067.4M1196.5 871.1M1196.5 952.1M1196.5 1039.5M1196.5 1067.8M1182.0 1113.8M1182.0 1142.4M1182.0 1173.8M1182.0 1183.4M1188.0 1114.1M1188.0 1142.6M1188.0 1174.0M1188.0 1183.6M1173.0 1193.1M1173.0 1204.5M1173.0 1216.8M1173.0 1221.0M1178.0 1193.3M1178.0 1204.6M1178.0 1216.9M1178.0 1221.0M1167.9 1225.0M1163.4 1230.2M1157.9 1234.4M1152.2 1238.9M1173.6 1225.8M1167.9 1230.3M1162.3 1235.5M1157.3 1238.7M1273.6 870.4M1273.6 951.5M1273.6 1039.1M1273.6 1067.4M1279.4 870.4M1279.4 951.5M1279.4 1039.1M1279.4 1067.4M1263.8 1113.8M1263.8 1142.4M1263.8 1173.8M1263.8 1183.4M1269.0 1113.8M1269.0 1142.4M1269.0 1173.8M1269.0 1183.4M1251.7 1193.1M1251.7 1204.5M1251.7 1216.8M1251.7 1221.0M1256.9 1193.1M1256.9 1204.5M1256.9 1216.8M1256.9 1221.0M1246.3 1226.1M1242.4 1230.9M1236.9 1235.1M1232.4 1240.1M1252.4 1225.0M1246.4 1230.5M1242.3 1235.3M1236.2 1239.2M1344.9 870.4M1344.9 951.5M1344.9 1039.1M1344.9 1067.4M1350.2 870.4M1350.2 951.5M1350.2 1039.1M1350.2 1067.4M1333.7 1113.8M1333.7 1142.4M1333.7 1173.8M1333.7 1183.4M1338.4 1113.8M1338.4 1142.4M1338.4 1173.8M1338.4 1183.4M1320.2 1193.1M1320.2 1204.5M1320.2 1216.8M1320.2 1221.0M1325.4 1193.1M1325.4 1204.5M1325.4 1216.8M1325.4 1221.0M1315.6 1226.1M1309.9 1229.9M1305.1 1234.0M1299.5 1239.6M1319.8 1225.1M1316.1 1230.6M1310.0 1234.7M1305.2 1239.6M1401.3 870.4M1401.3 951.5M1401.3 1039.1M1401.3 1067.4M1406.0 870.4M1406.0 951.5M1406.0 1039.1M1406.0 1067.4M1390.4 1113.8M1390.4 1142.4M1390.4 1173.8M1390.4 1183.4M1393.9 1113.8M1393.9 1142.4M1393.9 1173.8M1393.9 1183.4M1376.6 1193.1M1376.6 1204.5M1376.6 1216.8M1376.6 1221.0M1381.0 1193.1M1381.0 1204.5M1381.0 1216.8M1381.0 1221.0M1371.2 1225.4M1366.4 1230.3M1361.0 1235.1M1356.7 1239.7M1375.4 1226.2M1370.7 1229.5M1366.6 1235.6M1360.2 1239.2M1445.0 870.4M1445.0 951.5M1445.0 1039.1M1445.0 1067.4M1447.0 870.4M1447.0 951.5M1447.0 1039.1M1447.0 1067.4M1432.0 1113.8M1432.0 1142.4M1432.0 1173.8M1432.0 1183.4M1433.8 1113.8M1433.8 1142.4M1433.8 1173.8M1433.8 1183.4M1416.5 1193.1M1416.5 1204.5M1416.5 1216.8M1416.5 1221.0M1420.0 1193.1M1420.0 1204.5M1420.0 1216.8M1420.0 1221.0M1411.7 1225.3M1406.5 1230.4M1400.7 1234.6M1396.2 1239.7M1414.6 1226.2M1409.4 1230.0M1404.3 1235.0M1400.4 1239.8M1470.5 870.4M1470.5 951.5M1470.5 1039.1M1470.5 1067.4M1472.6 870.4M1472.6 951.5M1472.6 1039.1M1472.6 1067.4M1480.0 870.4M1480.0 951.5M1480.0 1039.1M1480.0 1067.4M1457.2 1113.8M1457.2 1142.4M1457.2 1173.8M1457.2 1183.4M1465.9 1113.8M1465.9 1142.4M1465.9 1173.8M1465.9 1183.4M1441.6 1193.1M1441.6 1204.5M1441.6 1216.8M1441.6 1221.0M1448.6 1193.1M1448.6 1204.5M1448.6 1216.8M1448.6 1221.0M1436.5 1225.4M1431.3 1229.4M1427.1 1234.3M1421.4 1239.0M1443.2 1225.5M1438.4 1230.9M1434.3 1235.5M1428.1 1238.7M421.0 1213.0M421.0 1218.0M432.0 1222.0M432.0 1226.0M447.0 1227.0M447.0 1230.0M506.0 1212.0M506.0 1218.0M515.0 1222.0M526.0 1228.0M526.0 1232.0M598.0 1213.0M605.0 1222.0M612.0 1228.0M682.0 1216.0M682.0 1222.7M682.0 1229.3M682.0 1236.0M690.0 1216.0M690.0 1223.3M690.0 1230.7M690.0 1238.0M697.0 1220.0M697.0 1228.0M697.0 1236.0M703.0 1224.0M703.0 1230.0M703.0 1236.0M782.6 1216.0M782.6 1220.0M782.6 1224.0M782.6 1228.0M782.6 1232.0M782.6 1236.0M789.0 1216.0M789.0 1220.0M789.0 1224.0M789.0 1228.0M789.0 1232.0M789.0 1236.0M883.0 1214.0M883.0 1220.0M883.0 1226.0M883.0 1232.0M876.0 1222.0M876.0 1229.0M876.0 1236.0M870.0 1228.0M870.0 1236.0M893.0 1216.0M893.0 1226.0M982.0 1214.0M982.0 1222.0M972.0 1220.0M972.0 1228.0M966.0 1229.0M988.0 1222.0M988.0 1228.0M1076.0 1214.0M1076.0 1220.0M1082.0 1214.0M1082.0 1220.0M1064.0 1222.0M1064.0 1228.0M1055.0 1228.0M1055.0 1232.0M1089.0 1220.0M1089.0 1226.0M1162.0 1214.0M1162.0 1224.0M1176.0 1214.0M1176.0 1224.0M1150.0 1224.0M1135.0 1228.0M1241.0 1215.0M1241.0 1222.0M1241.0 1229.0M1246.0 1215.0M1246.0 1222.0M1246.0 1229.0M1232.0 1225.0M1232.0 1235.0M1255.0 1213.0M1255.0 1222.0M149.8 1217.2M149.3 1219.6M149.2 1223.0M149.2 1226.2M149.7 1231.2M155.7 1215.8M155.9 1219.5M157.0 1224.2M156.1 1226.9M156.4 1231.4M164.2 1217.1M162.9 1220.0M164.0 1223.8M164.3 1227.9M163.5 1229.6M173.3 1219.3M173.0 1222.2M173.7 1227.1M173.4 1229.9M172.8 1233.7M173.9 1238.9M177.5 1219.6M178.3 1223.8M179.1 1226.6M178.2 1230.1M177.9 1234.0M179.5 1238.0M183.3 1218.4M183.7 1222.3M183.5 1226.4M183.0 1231.3M183.1 1235.3M183.9 1238.6M198.4 1218.8M197.5 1222.5M198.4 1227.0M197.7 1230.5M199.3 1235.1M198.0 1237.6M203.7 1218.1M204.1 1222.6M202.8 1226.0M203.1 1229.8M203.4 1234.0M202.8 1237.8M209.3 1218.4M207.7 1223.2M208.2 1225.9M208.6 1230.7M208.9 1234.5M209.2 1238.4M224.9 1217.0M224.3 1220.7M223.7 1223.5M224.7 1228.6M225.3 1232.8M224.4 1236.0M237.1 1226.6M237.1 1229.3M238.2 1233.1M237.6 1236.3M242.4 1227.2M242.1 1229.1M242.5 1233.2M240.7 1236.7M251.5 1216.7M253.5 1220.7M252.9 1223.7M253.4 1227.6M251.8 1230.4M252.4 1234.2M252.8 1238.1M259.3 1216.4M258.0 1221.0M258.0 1224.7M258.1 1227.3M259.6 1231.4M258.3 1235.7M259.2 1239.4M265.4 1215.5M266.0 1219.9M264.5 1222.9M264.8 1227.2M265.3 1231.2M265.6 1235.1M265.5 1237.8M272.1 1215.8M272.0 1220.3M272.2 1224.0M272.5 1228.3M271.4 1230.5M272.1 1235.2M272.3 1238.5M286.3 1227.1M285.7 1231.1M285.8 1233.9M284.5 1238.9M295.4 1227.4M293.7 1229.5M294.4 1234.4M295.0 1238.4M308.8 1230.8M308.5 1234.3M308.7 1237.8M313.6 1230.9M315.4 1235.8M313.6 1237.9M320.2 1232.3M321.4 1234.1M320.4 1238.1M334.0 1221.8M333.3 1226.5M334.4 1230.4M333.8 1233.3M332.9 1237.3M334.5 1240.7M339.0 1221.8M339.5 1225.0M339.4 1230.1M340.5 1233.4M340.4 1236.3M340.4 1240.8M345.6 1222.3M345.1 1226.1M347.0 1229.2M346.5 1233.2M345.1 1237.0M346.1 1241.5M351.8 1221.3M351.6 1225.1M351.9 1228.8M352.8 1234.4M353.0 1236.4M352.1 1241.3M358.3 1222.5M358.7 1225.2M358.5 1229.6M357.7 1232.7M359.4 1237.7M358.8 1240.2M370.0 1232.3M368.6 1235.5M368.9 1238.6M369.7 1240.4M376.0 1231.1M375.2 1234.0M376.2 1238.4M375.7 1240.4M380.6 1232.0M382.3 1235.7M381.6 1237.3M382.1 1241.5M418.8 1213.5M419.9 1218.0M419.7 1222.4M418.1 1225.7M419.9 1228.2M419.7 1233.3M419.6 1237.1M418.6 1240.6M431.2 1226.9M432.0 1229.6M431.6 1233.1M430.5 1237.4M430.3 1240.3M435.5 1226.3M435.0 1228.6M434.1 1233.2M435.3 1236.5M435.6 1240.9M385.4 1239.0M385.6 1242.0M389.9 1239.9M390.3 1242.4M392.5 1240.2M393.2 1242.4M398.0 1239.0M398.2 1241.3M400.6 1239.7M400.2 1241.6M404.5 1238.9M404.8 1242.3M409.1 1240.0M409.5 1242.7M411.4 1239.3M411.7 1242.0M416.8 1239.0M417.1 1242.2M420.5 1239.4M420.3 1241.4M423.6 1238.9M423.4 1241.7M427.3 1239.0M428.4 1241.9M430.3 1240.2M431.0 1241.5M434.8 1239.2M435.9 1241.4M438.3 1239.9M438.1 1242.6M441.5 1239.1M442.0 1241.8M446.2 1240.0M445.5 1242.7M449.6 1239.9M449.4 1242.2M453.7 1238.8M454.3 1242.4M456.7 1239.9M457.0 1241.7M462.1 1239.4M461.0 1242.4M465.9 1238.9M465.4 1241.3M468.3 1239.7M468.1 1241.2M473.6 1240.0M472.9 1241.8M475.5 1240.0M475.8 1242.2M479.8 1239.3M479.5 1242.7M484.0 1239.3M483.1 1242.2M488.6 1238.9M486.9 1242.4M491.1 1239.6M492.4 1242.3M495.3 1239.6M494.8 1241.6M498.2 1239.9M499.5 1242.7M503.6 1239.4M503.6 1242.7M506.2 1240.1M506.3 1241.3M511.2 1240.3M509.8 1241.8M513.5 1239.0M514.7 1242.0M517.6 1240.1M517.0 1241.5M521.7 1240.2M522.5 1241.5M524.5 1239.7M525.5 1242.6M528.9 1240.0M529.1 1241.5M533.6 1240.2M532.7 1241.3M536.2 1239.6M535.8 1242.1M540.2 1239.4M540.1 1241.4M545.0 1240.2M544.1 1241.5M547.1 1239.2M548.0 1242.5M554.4 1238.8M554.8 1242.6M558.3 1239.9M557.9 1241.9M562.5 1240.0M562.2 1242.5M565.1 1239.0M565.1 1242.2M570.4 1239.1M568.9 1241.9M572.7 1239.4M572.9 1241.6M576.6 1238.9M576.8 1242.1M580.5 1238.7M580.9 1241.4M586.1 1238.8M585.3 1241.7M589.7 1239.4M589.6 1242.8M592.1 1239.0M593.8 1241.5M597.0 1239.8M597.6 1241.2M600.9 1239.8M601.5 1241.3M603.7 1240.2M603.8 1242.4M607.7 1239.3M608.7 1241.3M612.4 1239.2M611.9 1241.5M616.0 1239.3M615.3 1241.4M620.5 1239.4M619.7 1241.5M624.6 1239.7M623.9 1241.6M630.2 1239.2M631.0 1242.5M634.4 1239.1M634.0 1242.6M637.8 1239.8M638.2 1242.0M642.4 1240.0M641.4 1242.2M646.6 1239.5M645.0 1241.5M650.6 1239.6M649.0 1242.2M653.5 1240.3M652.9 1241.8M657.3 1239.5M657.1 1242.3M660.3 1239.0M660.1 1241.4M664.0 1239.3M664.5 1241.8M668.5 1239.8M668.7 1241.3M671.2 1240.2M672.5 1242.1M677.8 1240.2M677.6 1241.7M681.1 1239.3M681.7 1241.8M686.1 1239.2M686.0 1242.8M689.1 1239.1M688.4 1242.7M692.6 1239.6M693.7 1242.4M695.8 1239.0M697.0 1243.1M700.5 1239.5M701.0 1243.1M704.2 1239.4M704.3 1242.8M707.4 1239.1M707.7 1242.7M712.0 1239.5M712.1 1242.4M714.4 1239.4M715.8 1242.9M718.1 1239.8M719.6 1242.3M722.0 1238.9M723.0 1241.9M727.3 1239.1M727.3 1242.5M730.1 1240.1M730.6 1242.5M733.2 1239.1M734.1 1242.3M738.2 1240.1M738.5 1242.8M741.7 1238.8M741.4 1242.0M744.5 1238.8M745.4 1242.3M751.3 1238.9M752.4 1242.2M755.2 1240.1M756.4 1243.0M760.3 1239.7M759.4 1242.4M763.0 1240.3M763.1 1242.7M767.1 1239.7M766.6 1242.6M772.1 1238.9M770.7 1242.0M774.4 1239.1M775.2 1242.0M778.0 1238.8M778.5 1242.3M782.0 1239.4M783.6 1243.2M787.1 1240.1M786.2 1243.1M789.9 1239.9M790.2 1243.3M794.1 1239.0M793.8 1242.6M798.1 1240.2M798.1 1243.2M801.0 1238.9M801.1 1242.7M805.6 1239.4M806.4 1243.1M809.0 1239.5M809.9 1243.3M813.4 1239.0M814.5 1243.0M818.0 1238.7M816.8 1242.3M820.4 1238.7M820.9 1242.9M825.4 1239.4M824.3 1242.7M829.8 1239.3M828.8 1242.8M832.4 1239.4M833.6 1243.1M836.1 1238.9M836.0 1242.1M840.0 1238.9M841.0 1242.5M843.8 1238.9M843.7 1242.6M848.1 1240.2M849.0 1242.7M851.1 1239.3M852.1 1242.2M856.6 1239.5M855.4 1243.1M858.7 1239.7M859.2 1243.3M862.6 1239.0M862.9 1242.8M867.5 1239.5M866.7 1243.0M871.1 1239.1M870.4 1241.8M876.1 1240.1M875.7 1242.2M878.9 1239.2M879.0 1242.4M883.6 1239.3M882.0 1243.3M886.8 1240.0M887.5 1242.2M891.4 1240.2M890.5 1242.2M893.8 1239.6M894.0 1241.8M898.4 1240.2M898.2 1242.7M902.0 1239.0M901.2 1242.6M909.9 1239.7M909.1 1242.1M913.5 1239.7M914.5 1243.2M916.1 1238.8M916.5 1242.7M923.9 1239.2M923.2 1241.7M926.8 1238.7M928.1 1241.9M932.5 1239.9M932.5 1243.1M936.2 1238.8M934.7 1241.8M939.8 1239.4M940.1 1242.9M943.6 1239.2M943.5 1242.8M946.0 1239.5M947.2 1242.3M950.5 1238.9M950.8 1242.5M954.2 1240.3M955.3 1243.0M957.8 1238.8M958.4 1242.3M962.7 1239.2M962.9 1243.0M965.9 1240.2M965.9 1243.2M970.1 1239.7M969.5 1241.7M973.0 1239.4M972.5 1242.6M976.4 1238.8M976.2 1242.3M980.1 1240.1M981.6 1242.1M984.9 1239.5M983.8 1241.9M988.1 1239.6M988.3 1242.9M991.6 1240.1M992.0 1243.3M996.6 1238.9M995.8 1242.4M1000.5 1239.1M1001.0 1242.8M1004.0 1238.8M1003.1 1242.4M1007.8 1239.3M1006.8 1242.0M1012.4 1240.3M1011.2 1242.3M1015.1 1240.0M1014.4 1242.3M1018.2 1240.0M1019.2 1242.1M1025.7 1240.0M1024.9 1242.6M1029.8 1238.8M1028.9 1243.2M1033.1 1239.7M1031.8 1242.7M1037.5 1239.8M1037.0 1243.2M1039.6 1240.2M1039.7 1241.9M1044.1 1240.1M1044.0 1242.5M1047.8 1239.8M1047.5 1242.4M1052.0 1239.0M1050.9 1242.7M1055.7 1238.8M1056.6 1241.8M1058.5 1238.8M1058.6 1242.9M1064.0 1240.2M1064.0 1242.7M1066.9 1239.8M1067.1 1242.7M1071.2 1240.1M1070.2 1241.7M1074.7 1239.4M1074.2 1242.9M1079.3 1239.6M1078.2 1242.4M1081.9 1240.0M1083.2 1242.3M1086.8 1239.7M1086.8 1242.1M1089.4 1239.1M1091.1 1241.8M1093.9 1239.2M1094.7 1242.5M1098.2 1239.1M1097.9 1242.4M1100.8 1240.1M1102.4 1242.5M1106.4 1239.8M1105.4 1242.8M1108.6 1239.7M1109.2 1241.8M1114.0 1240.1M1113.3 1242.2M1116.4 1239.7M1116.9 1243.1M1120.1 1239.3M1121.5 1242.8M1124.4 1240.2M1124.4 1242.4M1128.4 1240.1M1127.7 1241.8M1133.1 1240.2M1132.2 1242.6M1135.8 1238.9M1137.1 1242.3M1140.9 1240.1M1140.0 1241.8M1139.3 1238.7M1141.0 1240.7M1143.7 1239.2M1143.2 1241.4M1148.5 1238.7M1147.2 1241.1M1151.1 1239.2M1151.1 1240.9M1155.4 1237.9M1155.1 1240.9M1159.3 1239.3M1159.0 1241.2M1163.3 1238.9M1163.1 1241.5M1167.8 1238.8M1167.6 1240.8M1170.0 1238.3M1171.5 1241.9M1174.8 1237.8M1173.7 1241.1M1178.1 1238.6M1178.7 1241.5M1182.1 1238.5M1182.2 1242.3M1185.6 1238.8M1186.2 1241.3M1189.3 1238.1M1190.8 1241.7M1193.0 1238.7M1193.8 1241.2M1196.7 1239.1M1196.7 1240.9M1201.3 1238.5M1200.5 1240.7M1206.0 1239.2M1206.0 1240.9M1208.5 1238.7M1209.7 1241.1M1213.9 1238.9M1212.3 1242.1M1216.2 1237.9M1217.0 1241.7M1221.6 1237.9M1220.8 1241.8M1224.6 1238.8M1225.5 1241.7M1228.8 1237.8M1227.7 1242.2M1232.8 1238.8M1232.4 1240.7M1235.9 1238.6M1235.9 1242.1M1144.1 1222.5M1144.7 1224.8M1144.1 1229.2M1145.8 1232.7M1145.7 1236.8M1151.3 1222.4M1151.4 1225.2M1152.4 1228.5M1151.8 1232.1M1151.2 1235.0M1158.8 1221.8M1158.1 1224.7M1157.0 1228.7M1158.5 1231.6M1158.3 1235.0M1203.6 1231.3M1203.5 1235.8M1222.8 1223.0M1222.6 1226.2M1222.4 1229.5M1222.1 1233.1M1221.1 1236.9M1231.0 1222.9M1230.8 1226.1M1230.4 1228.7M1230.9 1231.8M1231.2 1235.3M1252.2 1236.2M1251.5 1240.1M1258.1 1237.0M1258.3 1240.8M1265.6 1235.2M1266.8 1241.8M1285.3 1223.3M1284.2 1227.6M1285.8 1231.5M1284.8 1234.3M1284.6 1237.5M1294.7 1224.5M1293.6 1226.6M1293.6 1230.4M1293.4 1234.7M1293.9 1237.3M1304.1 1214.2M1304.0 1217.8M1303.7 1222.5M1304.7 1225.1M1304.2 1229.5M1303.6 1232.0M1303.9 1236.1M1303.5 1239.9M1309.9 1214.5M1311.0 1218.0M1311.6 1223.0M1310.8 1226.0M1311.3 1229.5M1311.2 1233.7M1310.0 1237.1M1309.9 1240.0M1318.1 1214.9M1317.4 1218.6M1316.8 1222.7M1316.4 1226.0M1316.4 1228.4M1317.1 1233.4M1317.9 1237.1M1316.4 1240.8M1324.8 1214.4M1323.6 1218.3M1323.0 1222.0M1323.6 1225.1M1323.8 1228.8M1324.5 1232.3M1323.6 1236.1M1324.3 1239.5M1335.6 1222.5M1335.6 1224.8M1336.8 1229.0M1336.3 1232.3M1335.9 1237.2M1343.6 1221.1M1342.8 1226.4M1342.4 1229.2M1342.9 1233.4M1343.6 1236.7M1350.4 1222.7M1350.2 1225.8M1350.3 1229.3M1349.9 1233.9M1350.0 1237.6M1360.7 1215.7M1360.6 1219.6M1360.6 1222.5M1360.9 1226.8M1359.7 1229.3M1360.4 1232.5M1359.5 1237.4M1360.4 1239.8M1359.5 1244.1M1366.1 1214.6M1367.1 1219.2M1367.5 1221.7M1366.1 1226.2M1367.5 1230.2M1366.5 1233.0M1366.6 1236.3M1367.3 1240.1M1366.8 1243.8M1374.1 1215.2M1372.7 1218.1M1374.3 1222.9M1373.6 1226.5M1373.9 1229.1M1373.1 1234.0M1373.7 1237.6M1372.6 1240.3M1373.5 1244.5M1379.0 1214.1M1380.9 1218.0M1380.4 1222.1M1380.7 1225.0M1379.2 1230.2M1380.7 1232.1M1379.0 1236.4M1379.7 1240.3M1380.8 1244.3M1397.4 1215.1M1397.8 1219.3M1397.1 1221.1M1397.4 1225.9M1397.5 1229.1M1396.4 1232.0M1396.3 1235.2M1406.6 1215.9M1405.6 1218.8M1405.0 1221.7M1406.0 1225.6M1405.4 1229.3M1405.1 1231.1M1406.3 1235.8M1415.2 1215.3M1415.9 1219.0M1415.8 1222.3M1416.7 1225.9M1415.2 1229.6M1423.3 1214.3M1422.7 1218.6M1421.5 1222.9M1422.4 1226.1M1421.7 1230.4M1429.4 1214.2M1428.7 1219.1M1428.7 1222.0M1429.0 1226.6M1429.6 1230.3M1438.4 1200.0M1439.0 1202.5M1438.8 1206.6M1439.1 1210.0M1438.0 1213.4M1438.3 1216.1M1438.6 1220.8M1447.4 1199.5M1447.9 1202.5M1448.5 1207.5M1447.4 1209.4M1447.2 1213.9M1447.4 1216.3M1448.1 1219.5M92.0 1621.1M92.0 1628.0M92.0 1629.8M92.0 1631.7M92.0 1633.5M92.0 1635.4M92.0 1637.2M92.0 1639.1M92.0 1640.9M92.0 1642.8M92.0 1644.6M92.0 1646.5M92.0 1648.3M92.0 1650.2M92.0 1652.0M92.0 1895.0M92.0 1896.6M92.0 1898.1M92.0 1899.7M92.0 1901.3M92.0 1902.9M92.0 1904.4M92.0 1906.0M92.0 1984.0M92.0 1985.7M92.0 1987.3M92.0 1989.0M92.0 2011.1M92.0 2022.1M92.0 2027.3M92.0 2031.0M92.0 2032.4M92.0 2033.9M92.0 2035.3M92.0 2036.8M92.0 2038.2M92.0 2039.7M92.0 2041.1M92.0 2042.6M92.0 2044.0M437.0 1710.2M437.0 1717.6M437.0 1719.3M437.0 1720.9M437.0 1722.6M437.0 1724.3M437.0 1726.0M437.0 1727.6M437.0 1729.3M437.0 1731.0M437.0 1732.7M437.0 1734.3M437.0 1736.0M437.0 1928.0M437.0 1929.7M437.0 1931.3M437.0 1933.0M437.0 1934.7M437.0 1936.3M437.0 1938.0M437.0 2001.1M437.0 2019.3M437.0 2025.0M437.0 2026.9M437.0 2028.8M437.0 2030.7M437.0 2032.6M437.0 2034.4M437.0 2036.3M437.0 2038.2M437.0 2040.1M437.0 2042.0M1126.5 1809.2M1126.5 1814.0M1126.5 1815.8M1126.5 1817.6M1126.5 1819.3M1126.5 1821.1M1126.5 1822.9M1126.5 1824.7M1126.5 1826.4M1126.5 1828.2M1126.5 1830.0M1126.5 1959.0M1126.5 1961.0M1126.5 1962.9M1126.5 1964.8M1126.5 1966.8M1126.5 1968.8M1126.5 1970.7M1126.5 2009.6M1126.5 2020.0M1126.5 2025.0M1126.5 2026.9M1126.5 2028.7M1126.5 2030.6M1126.5 2032.4M1126.5 2034.3M1126.5 2036.1M1126.5 2038.0M1471.8 1841.5M1471.8 1845.0M1471.8 1846.8M1471.8 1848.5M1471.8 1850.2M1471.8 1852.0M1471.8 1853.8M1471.8 1855.5M1471.8 1857.2M1471.8 1859.0M1471.8 1973.8M1471.8 1975.8M1471.8 1977.7M1471.8 1979.6M1471.8 1981.6M1471.8 2019.2M1471.8 2029.6M1471.8 2033.0M1471.8 2034.8M1471.8 2036.6M1471.8 2038.4M1471.8 2040.2M1471.8 2042.0M1471.8 2043.8" fill="none" stroke="none" marker-start="url(#o)" marker-mid="url(#o)" marker-end="url(#o)"/>
<path d="M92.1 77.9h0M92.4 159.6h0M92.8 246.9h0M92.7 277.4h0M100.9 71.3h0M100.4 156.6h0M101.5 255.6h0M100.6 283.7h0M102.0 79.7h0M104.4 150.6h0M101.8 247.3h0M103.4 280.3h0M104.1 78.9h0M105.2 167.0h0M104.5 248.4h0M103.5 285.0h0M105.5 331.2h0M107.5 343.5h0M108.5 390.1h0M105.9 406.2h0M113.7 336.3h0M113.2 368.2h0M112.3 402.6h0M114.4 407.0h0M114.2 332.0h0M115.3 362.1h0M114.5 401.1h0M116.0 399.0h0M117.0 337.8h0M116.6 365.1h0M116.2 397.1h0M116.7 413.3h0M123.3 415.5h0M123.0 432.0h0M123.1 443.3h0M123.8 446.2h0M131.2 416.0h0M130.3 429.1h0M131.5 441.5h0M131.9 447.7h0M133.4 416.8h0M130.8 428.7h0M133.8 442.8h0M132.3 444.5h0M122.9 65.6h0M124.0 162.8h0M123.4 250.7h0M124.2 283.5h0M128.5 76.0h0M126.8 168.3h0M128.0 250.4h0M128.7 283.1h0M137.8 343.2h0M136.5 355.2h0M137.1 400.4h0M137.4 402.0h0M142.0 334.2h0M141.3 364.2h0M142.1 398.0h0M143.0 408.1h0M154.9 419.5h0M155.8 432.1h0M154.0 441.7h0M154.3 447.5h0M157.4 414.4h0M158.6 429.4h0M157.7 444.3h0M158.3 447.1h0M164.6 75.9h0M164.1 153.0h0M164.7 253.4h0M165.0 283.6h0M172.5 73.6h0M171.8 161.8h0M172.4 247.0h0M174.8 278.7h0M178.4 350.9h0M178.1 372.3h0M178.0 404.1h0M179.8 408.6h0M185.1 334.5h0M185.1 364.8h0M184.1 396.9h0M183.1 410.4h0M193.2 418.6h0M192.1 433.9h0M194.6 440.2h0M194.1 448.6h0M198.7 416.5h0M198.8 431.9h0M197.4 440.3h0M198.8 443.8h0M221.0 78.2h0M221.4 154.5h0M221.8 253.4h0M222.8 286.4h0M230.4 76.2h0M230.4 166.3h0M231.4 250.3h0M230.4 285.9h0M233.2 334.6h0M232.6 368.3h0M234.7 398.5h0M232.3 407.2h0M239.3 341.6h0M242.1 361.0h0M241.4 403.7h0M241.2 409.1h0M246.3 418.3h0M246.0 427.0h0M248.2 440.4h0M248.5 447.4h0M254.3 416.6h0M255.0 428.4h0M254.3 445.9h0M255.1 449.1h0M291.4 75.6h0M293.1 173.5h0M292.4 255.3h0M291.7 271.8h0M303.1 70.5h0M302.8 168.1h0M304.2 254.5h0M303.4 289.0h0M304.0 325.8h0M302.1 364.9h0M303.8 399.4h0M302.4 428.3h0M313.6 334.9h0M313.7 358.4h0M311.9 395.9h0M313.4 408.2h0M312.3 420.7h0M313.5 434.3h0M317.6 443.5h0M314.7 447.7h0M324.4 417.3h0M323.2 428.6h0M325.7 445.8h0M324.8 451.3h0M375.7 75.9h0M376.7 161.1h0M376.8 254.9h0M376.2 285.0h0M387.6 74.5h0M387.0 161.6h0M387.2 262.4h0M386.8 287.0h0M385.5 334.8h0M385.3 357.1h0M383.3 390.8h0M382.9 405.6h0M395.0 342.9h0M396.2 364.0h0M396.4 402.0h0M395.2 405.9h0M393.4 421.6h0M393.4 427.4h0M393.8 442.0h0M393.8 449.0h0M404.9 414.8h0M404.6 429.9h0M408.2 441.8h0M407.5 447.3h0M468.7 80.3h0M470.1 162.4h0M471.7 245.8h0M469.5 273.4h0M482.1 70.2h0M481.9 155.0h0M481.7 244.2h0M482.7 283.2h0M475.3 334.1h0M476.7 366.4h0M475.0 398.4h0M475.0 406.6h0M488.9 328.4h0M488.1 362.7h0M487.7 394.5h0M488.6 406.9h0M482.1 419.1h0M483.7 428.7h0M481.8 443.4h0M483.5 450.5h0M494.6 417.9h0M495.3 430.7h0M494.8 445.1h0M495.4 442.4h0M570.5 73.4h0M569.2 158.5h0M570.6 252.7h0M570.8 284.5h0M584.5 77.2h0M584.0 160.8h0M583.5 251.9h0M583.8 285.6h0M573.6 334.7h0M575.4 363.5h0M576.4 394.1h0M574.3 408.0h0M589.6 330.0h0M589.3 366.1h0M587.6 395.7h0M587.5 402.2h0M580.5 419.2h0M578.9 429.5h0M580.2 445.6h0M579.7 441.6h0M592.1 416.6h0M591.0 428.8h0M593.4 436.6h0M591.5 451.6h0M678.5 82.8h0M677.2 150.6h0M677.8 256.3h0M675.7 292.8h0M690.5 83.5h0M692.0 160.7h0M691.3 252.8h0M690.8 284.5h0M680.0 331.5h0M679.2 360.7h0M679.7 395.2h0M678.5 405.8h0M692.3 339.1h0M693.9 361.8h0M692.1 394.0h0M690.9 402.7h0M683.4 418.0h0M683.1 426.9h0M682.0 443.2h0M682.5 448.1h0M695.0 410.4h0M696.4 430.0h0M696.2 441.2h0M695.6 448.4h0M785.7 76.0h0M786.3 154.5h0M787.7 252.7h0M785.2 270.4h0M802.1 70.1h0M802.8 179.1h0M802.8 252.9h0M800.6 291.1h0M783.4 339.7h0M787.2 360.6h0M785.8 399.0h0M785.9 397.6h0M799.8 333.6h0M799.9 364.4h0M799.2 400.6h0M799.9 401.0h0M785.3 416.6h0M788.1 434.4h0M783.2 445.0h0M787.5 454.4h0M798.9 419.1h0M802.3 425.6h0M800.7 440.8h0M799.2 447.7h0M894.2 77.3h0M894.8 163.6h0M896.9 260.8h0M896.8 287.4h0M909.8 70.6h0M910.3 158.3h0M909.3 229.6h0M908.7 281.2h0M893.5 333.8h0M892.7 355.6h0M892.7 398.1h0M894.1 404.3h0M908.4 330.3h0M907.3 362.1h0M906.9 390.2h0M907.8 406.5h0M891.4 413.0h0M893.6 429.6h0M891.0 444.2h0M893.3 444.4h0M904.8 419.4h0M903.8 431.1h0M904.7 443.9h0M904.6 442.8h0M1004.0 74.9h0M1003.0 162.7h0M1002.9 248.7h0M1002.8 289.1h0M1015.0 67.6h0M1016.2 158.8h0M1017.4 244.6h0M1015.9 282.9h0M999.0 332.7h0M998.4 369.8h0M1000.0 393.5h0M999.4 389.4h0M1011.6 327.9h0M1012.2 363.7h0M1010.3 398.8h0M1012.0 407.7h0M993.5 420.4h0M994.4 429.3h0M993.9 443.5h0M992.2 447.4h0M1004.6 412.5h0M1006.6 426.2h0M1004.6 441.8h0M1003.8 444.9h0M1105.3 75.1h0M1103.6 162.2h0M1105.1 253.4h0M1104.5 287.2h0M1119.0 47.5h0M1116.0 146.8h0M1116.9 258.9h0M1117.8 277.7h0M1098.1 331.4h0M1098.1 359.6h0M1098.8 396.3h0M1099.3 406.9h0M1111.4 331.4h0M1109.7 359.6h0M1110.2 398.1h0M1109.1 384.4h0M1092.4 418.9h0M1089.6 430.9h0M1090.7 441.4h0M1090.1 446.1h0M1101.7 419.6h0M1101.8 428.1h0M1103.3 441.6h0M1099.3 443.7h0M1198.3 74.2h0M1197.1 155.0h0M1196.8 249.4h0M1198.7 282.3h0M1211.0 73.1h0M1209.9 143.8h0M1208.8 252.7h0M1210.2 281.4h0M1190.6 338.3h0M1189.6 363.1h0M1189.1 376.1h0M1189.2 407.1h0M1200.4 330.7h0M1201.8 348.2h0M1201.2 399.5h0M1201.3 412.4h0M1177.4 419.6h0M1180.6 429.1h0M1178.2 441.2h0M1180.0 446.1h0M1190.1 418.5h0M1189.2 427.9h0M1192.0 444.0h0M1190.8 449.0h0M1282.4 79.3h0M1280.0 166.3h0M1283.3 258.8h0M1281.8 301.8h0M1291.9 61.4h0M1293.4 149.1h0M1292.0 255.3h0M1291.4 268.8h0M1272.3 329.1h0M1271.9 355.7h0M1270.7 403.5h0M1271.7 407.2h0M1282.3 329.7h0M1281.1 362.4h0M1282.3 414.4h0M1282.1 399.2h0M1259.6 418.3h0M1260.3 430.8h0M1260.7 445.7h0M1257.7 448.9h0M1270.3 414.8h0M1268.5 429.9h0M1270.3 442.9h0M1269.2 444.0h0M1352.1 78.9h0M1354.7 158.2h0M1351.6 245.1h0M1354.6 285.0h0M1360.7 44.8h0M1361.2 147.3h0M1361.6 253.4h0M1361.4 284.7h0M1342.5 333.8h0M1340.6 367.1h0M1342.4 395.4h0M1344.4 388.4h0M1350.2 336.5h0M1350.8 360.6h0M1350.2 397.1h0M1351.4 426.3h0M1329.6 417.5h0M1328.3 431.0h0M1330.7 440.8h0M1328.3 449.5h0M1337.3 419.1h0M1337.6 428.7h0M1336.1 443.6h0M1338.1 447.0h0M1410.8 77.9h0M1411.3 161.8h0M1412.4 252.9h0M1411.1 281.5h0M1418.0 48.3h0M1417.3 133.2h0M1417.4 237.8h0M1417.6 271.4h0M1398.0 334.0h0M1399.1 361.8h0M1398.7 398.8h0M1397.7 410.9h0M1405.2 316.9h0M1406.1 356.4h0M1405.9 393.1h0M1406.0 403.2h0M1382.0 419.8h0M1382.4 432.0h0M1383.3 444.9h0M1382.4 449.7h0M1390.2 416.2h0M1389.5 425.3h0M1388.5 437.5h0M1389.4 446.2h0M1454.3 75.0h0M1453.0 161.4h0M1455.8 248.9h0M1454.8 283.1h0M1457.1 45.4h0M1458.3 142.8h0M1457.5 237.5h0M1458.1 271.9h0M1441.2 332.9h0M1439.5 360.6h0M1440.5 396.4h0M1440.8 409.4h0M1445.4 330.0h0M1444.9 365.1h0M1443.7 390.2h0M1443.5 402.1h0M1426.2 418.0h0M1425.2 432.8h0M1425.9 443.9h0M1424.4 445.7h0M1429.4 413.7h0M1427.9 429.0h0M1428.8 436.7h0M1428.4 446.1h0M1477.5 71.7h0M1479.3 161.0h0M1478.8 244.1h0M1478.7 280.2h0M1479.9 56.3h0M1479.6 139.3h0M1479.4 237.6h0M1480.6 262.0h0M1487.7 57.6h0M1487.5 147.5h0M1488.7 244.4h0M1487.9 275.8h0M1465.3 337.5h0M1465.1 363.0h0M1464.7 397.6h0M1464.8 408.7h0M1467.0 315.1h0M1469.0 351.9h0M1467.8 391.2h0M1466.4 404.2h0M1473.6 328.4h0M1473.5 356.5h0M1473.5 393.8h0M1476.3 425.0h0M1450.3 417.4h0M1448.6 434.1h0M1449.0 440.4h0M1448.0 450.0h0M1456.3 410.5h0M1457.0 422.9h0M1456.9 441.8h0M1456.9 445.4h0M417.2 439.8h0M417.9 435.1h0M416.4 444.4h0M415.7 446.1h0M428.4 452.9h0M430.3 448.9h0M431.7 454.7h0M429.1 458.7h0M433.5 454.5h0M436.2 455.7h0M434.8 457.8h0M434.6 457.8h0M444.1 454.6h0M444.5 453.8h0M446.8 459.1h0M445.8 462.7h0M502.7 435.7h0M504.9 437.8h0M501.5 442.4h0M507.0 443.9h0M506.1 451.0h0M505.0 452.4h0M514.9 452.1h0M513.6 450.4h0M515.4 457.3h0M514.5 457.6h0M524.1 454.5h0M525.5 455.5h0M526.1 460.0h0M524.2 460.3h0M525.5 470.5h0M524.5 464.2h0M596.1 440.3h0M597.7 440.4h0M599.6 445.1h0M597.8 444.1h0M603.8 449.1h0M606.0 447.2h0M605.9 452.5h0M604.3 452.3h0M612.1 451.9h0M612.8 455.6h0M613.7 455.3h0M613.8 454.9h0M684.8 450.8h0M684.7 453.4h0M685.1 454.7h0M686.7 454.9h0M685.0 457.9h0M685.9 457.0h0M698.4 449.5h0M699.4 450.0h0M699.4 455.0h0M698.3 454.4h0M699.0 457.9h0M698.0 459.0h0M701.4 451.0h0M703.8 450.7h0M701.9 451.8h0M703.3 452.2h0M702.3 451.1h0M706.0 458.4h0M788.6 443.1h0M787.0 440.0h0M785.3 446.2h0M785.3 441.9h0M785.3 445.7h0M785.4 449.3h0M783.3 448.8h0M785.3 449.0h0M785.7 454.9h0M787.5 453.4h0M784.9 455.2h0M786.2 458.0h0M785.3 459.9h0M786.7 462.4h0M786.0 461.9h0M786.3 460.1h0M799.3 437.7h0M801.2 439.5h0M800.5 443.4h0M798.3 444.8h0M801.7 445.2h0M800.3 447.1h0M802.0 449.1h0M798.7 446.8h0M801.2 453.4h0M801.0 451.4h0M801.1 456.4h0M801.0 458.9h0M798.1 455.1h0M796.1 460.1h0M800.9 456.8h0M800.0 459.8h0M889.1 443.3h0M889.3 440.1h0M887.6 444.8h0M888.1 446.1h0M905.5 440.9h0M903.7 439.4h0M904.3 447.5h0M905.4 443.3h0M886.9 446.5h0M887.5 448.3h0M885.6 451.3h0M885.9 449.9h0M901.7 451.2h0M899.5 445.6h0M900.6 452.5h0M897.5 450.8h0M880.2 453.5h0M882.2 452.9h0M882.0 454.5h0M881.7 457.2h0M894.0 448.1h0M896.0 449.7h0M893.8 459.0h0M896.4 452.3h0M881.3 455.2h0M882.0 456.4h0M880.7 463.2h0M878.2 465.2h0M986.9 445.7h0M987.4 444.3h0M999.4 442.4h0M999.0 438.1h0M1006.2 441.3h0M1006.1 444.9h0M1006.4 444.2h0M1005.1 447.0h0M981.1 447.4h0M980.5 449.6h0M972.4 458.3h0M972.9 455.6h0M997.6 454.9h0M998.1 449.4h0M998.7 457.4h0M998.1 458.4h0M965.8 461.7h0M965.4 459.4h0M965.1 459.3h0M965.2 461.0h0M1080.5 440.2h0M1079.7 442.7h0M1091.0 439.0h0M1092.1 438.8h0M1101.4 444.3h0M1103.3 440.9h0M1102.6 443.8h0M1102.1 447.4h0M1071.2 448.0h0M1070.8 448.5h0M1059.8 453.9h0M1060.0 457.8h0M1090.0 451.1h0M1088.9 450.8h0M1090.7 455.3h0M1091.0 455.3h0M1092.7 457.0h0M1093.0 459.5h0M1169.8 438.7h0M1167.1 439.9h0M1180.4 443.7h0M1179.4 443.7h0M1190.4 443.6h0M1190.7 444.0h0M1191.4 449.5h0M1189.8 446.3h0M1178.5 452.9h0M1179.4 453.1h0M1178.8 454.2h0M1179.4 457.7h0M1155.8 452.3h0M1154.7 449.5h0M1247.1 442.8h0M1245.6 440.7h0M1255.7 447.0h0M1255.6 441.3h0M1259.2 445.3h0M1260.4 443.3h0M1266.8 443.5h0M1267.6 441.5h0M1268.3 448.7h0M1268.6 445.0h0M1232.9 446.7h0M1230.8 448.7h0M1234.3 452.8h0M1235.4 453.4h0M1334.5 441.5h0M1334.1 439.7h0M1320.4 440.7h0M1318.2 438.9h0M1321.9 446.5h0M1320.0 444.6h0M1311.4 438.5h0M1312.8 440.3h0M1311.4 442.9h0M1314.3 445.7h0M1372.1 440.3h0M1372.1 440.3h0M1370.5 442.9h0M1372.7 444.7h0M1372.3 452.8h0M1371.2 450.1h0M1369.4 435.7h0M1365.9 437.2h0M1365.7 440.6h0M1366.2 437.7h0M1365.4 447.8h0M1364.3 442.7h0M1389.6 441.9h0M1388.9 439.5h0M1387.5 451.5h0M1389.6 444.9h0M1427.4 417.7h0M1427.3 417.0h0M1426.0 422.6h0M1424.0 426.5h0M1458.1 416.5h0M1457.5 414.7h0M1455.7 418.4h0M1451.7 415.6h0M1448.1 430.4h0M1448.5 432.3h0M1459.4 425.8h0M1459.4 428.5h0M1448.0 441.1h0M1449.0 443.1h0M1456.7 444.2h0M1457.2 445.4h0M151.8 440.9h0M146.8 441.4h0M145.6 450.7h0M148.4 454.3h0M146.3 446.8h0M147.2 454.5h0M150.1 456.5h0M156.6 445.9h0M158.4 451.8h0M156.3 456.8h0M170.8 444.9h0M168.4 450.4h0M171.3 451.6h0M168.9 459.9h0M170.9 465.4h0M176.4 445.1h0M176.6 455.0h0M174.6 462.3h0M174.5 461.7h0M197.2 439.1h0M195.5 448.3h0M192.9 462.1h0M195.3 467.6h0M200.8 440.4h0M200.8 444.6h0M204.0 447.5h0M201.1 451.7h0M202.3 459.8h0M199.3 462.2h0M214.8 442.8h0M215.4 445.8h0M211.3 453.9h0M213.7 457.2h0M215.6 456.1h0M218.1 448.0h0M219.6 455.9h0M219.8 458.0h0M232.7 452.1h0M231.6 460.4h0M236.2 452.0h0M238.7 455.9h0M249.5 464.1h0M250.5 466.2h0M260.3 445.3h0M258.0 453.2h0M258.5 460.6h0M261.3 463.2h0M256.6 468.1h0M267.0 441.7h0M265.9 448.8h0M267.4 467.5h0M279.6 461.4h0M279.7 464.2h0M283.3 469.0h0M284.9 455.1h0M288.1 461.6h0M289.0 466.4h0M304.7 457.5h0M304.6 465.5h0M308.3 462.7h0M307.7 467.5h0M318.9 446.4h0M320.9 448.6h0M317.9 464.8h0M327.6 443.8h0M328.3 449.5h0M329.3 453.0h0M325.0 458.6h0M325.8 465.9h0M338.4 447.8h0M337.2 456.0h0M335.9 458.8h0M339.6 465.2h0M338.9 465.5h0M343.4 456.4h0M343.0 460.1h0M344.6 464.7h0M343.2 463.3h0M350.5 453.2h0M347.1 461.6h0M358.5 461.0h0M362.4 467.7h0M367.6 459.4h0M367.8 463.7h0M365.8 466.8h0M371.9 455.8h0M371.6 461.9h0M398.6 468.6h0M417.5 444.4h0M416.2 450.3h0M417.5 461.6h0M419.5 443.4h0M420.7 447.9h0M421.2 454.9h0M420.7 461.1h0M420.6 467.4h0M430.3 452.0h0M432.0 452.2h0M432.5 458.1h0M433.4 458.1h0M429.8 466.1h0M440.8 450.3h0M438.0 460.3h0M440.7 462.6h0M443.4 450.2h0M445.6 460.2h0M444.6 464.1h0M450.5 467.3h0M453.3 466.5h0M452.1 468.6h0M450.1 466.4h0M453.1 467.7h0M452.9 468.9h0M453.2 468.5h0M455.7 469.8h0M458.1 467.7h0M454.5 467.8h0M455.5 469.7h0M456.3 469.1h0M460.9 469.4h0M462.3 469.2h0M460.1 470.5h0M462.6 469.0h0M462.7 467.8h0M460.8 469.6h0M464.1 466.0h0M467.5 469.8h0M468.8 469.6h0M465.0 466.8h0M466.0 475.6h0M463.2 468.3h0M468.9 469.1h0M471.6 469.9h0M470.5 467.5h0M469.8 472.6h0M468.6 466.6h0M471.4 470.8h0M477.8 466.6h0M476.5 470.8h0M476.3 467.1h0M476.1 469.6h0M475.3 468.1h0M475.1 471.4h0M481.9 471.2h0M479.1 467.5h0M478.6 472.2h0M476.8 467.3h0M479.6 472.5h0M480.9 465.5h0M488.7 467.6h0M485.7 468.9h0M487.5 468.6h0M486.1 471.0h0M483.4 468.6h0M483.0 470.7h0M490.2 470.5h0M491.7 471.6h0M493.6 472.9h0M492.8 468.5h0M492.0 467.1h0M490.2 468.5h0M494.7 472.0h0M496.7 472.8h0M496.5 467.7h0M496.9 471.5h0M496.2 467.7h0M498.6 472.0h0M496.8 469.8h0M499.2 470.0h0M498.9 469.6h0M500.5 467.2h0M501.0 471.9h0M501.2 468.7h0M503.9 465.7h0M503.8 472.7h0M502.9 468.2h0M504.2 471.6h0M504.5 466.9h0M511.8 470.8h0M509.5 465.3h0M509.1 469.4h0M510.2 467.7h0M511.3 471.1h0M509.4 473.9h0M513.5 473.1h0M513.1 470.0h0M512.1 469.0h0M515.5 470.7h0M516.4 467.6h0M514.6 471.9h0M518.0 470.9h0M518.1 471.0h0M522.1 468.0h0M519.1 470.4h0M516.7 464.0h0M524.8 465.8h0M524.1 468.6h0M522.7 466.1h0M521.4 469.2h0M524.3 468.5h0M522.3 468.5h0M528.7 465.7h0M529.2 469.7h0M532.1 467.9h0M531.2 473.4h0M528.6 471.0h0M529.3 471.0h0M531.2 464.4h0M532.8 467.8h0M534.6 465.7h0M535.0 467.0h0M536.2 469.0h0M532.7 467.6h0M537.8 473.3h0M539.2 469.9h0M537.4 467.9h0M537.5 469.8h0M536.2 469.3h0M541.3 471.5h0M545.1 469.3h0M544.7 465.7h0M544.1 467.7h0M545.4 465.3h0M544.0 469.0h0M543.6 467.0h0M549.2 469.6h0M548.1 471.3h0M545.7 469.3h0M548.1 470.7h0M548.2 466.6h0M548.0 470.7h0M554.7 475.1h0M555.6 467.2h0M553.7 468.9h0M551.2 468.6h0M551.5 471.2h0M552.9 469.9h0M557.7 467.3h0M560.2 470.9h0M559.1 470.4h0M557.9 472.6h0M557.1 468.0h0M558.7 467.6h0M565.2 468.2h0M563.3 472.0h0M559.7 466.3h0M564.1 469.5h0M563.5 469.3h0M561.4 467.5h0M567.1 466.2h0M568.2 471.8h0M569.1 464.6h0M567.5 467.4h0M569.5 468.4h0M567.0 472.6h0M574.1 471.1h0M570.9 468.2h0M572.2 470.3h0M574.5 473.2h0M574.4 469.5h0M574.3 475.0h0M580.2 470.4h0M577.4 466.3h0M577.3 471.2h0M579.6 471.6h0M579.4 470.4h0M578.9 473.0h0M580.5 472.1h0M581.5 464.8h0M583.0 467.6h0M584.1 471.4h0M583.1 468.8h0M581.7 466.6h0M585.5 470.9h0M587.4 470.0h0M588.5 468.3h0M587.2 465.3h0M588.6 472.0h0M590.4 467.7h0M592.4 473.2h0M592.4 464.1h0M594.2 466.4h0M593.2 468.4h0M594.0 469.5h0M598.3 468.5h0M596.7 466.2h0M594.2 468.7h0M593.7 469.2h0M598.7 466.7h0M599.5 469.2h0M601.8 471.2h0M601.4 464.7h0M606.7 465.6h0M603.4 470.9h0M603.2 467.1h0M603.0 470.2h0M609.0 466.2h0M607.8 466.1h0M609.6 469.0h0M609.7 468.8h0M609.6 472.6h0M608.9 470.1h0M610.2 473.1h0M609.4 470.9h0M612.4 468.7h0M609.9 470.6h0M610.3 471.8h0M611.6 468.0h0M615.3 470.0h0M615.3 470.7h0M615.0 463.3h0M615.5 471.0h0M615.0 468.7h0M614.5 470.3h0M621.9 466.8h0M621.1 462.6h0M623.2 471.4h0M620.4 469.7h0M619.0 471.7h0M619.5 469.0h0M627.4 466.7h0M626.4 470.2h0M628.2 469.3h0M624.0 468.0h0M625.1 472.5h0M624.8 465.7h0M629.2 469.8h0M631.5 469.9h0M629.5 471.9h0M631.3 472.2h0M632.5 467.3h0M630.8 469.1h0M634.2 470.5h0M630.5 470.6h0M634.1 471.4h0M637.4 466.5h0M634.4 466.4h0M634.9 472.8h0M640.1 473.8h0M640.0 472.6h0M640.3 468.9h0M639.0 469.4h0M639.3 467.5h0M649.4 470.7h0M645.4 469.1h0M644.4 469.4h0M644.7 468.0h0M646.7 466.4h0M646.8 469.7h0M650.0 466.6h0M652.1 466.7h0M647.6 465.5h0M650.4 470.2h0M651.7 471.3h0M648.8 469.6h0M657.7 467.1h0M654.6 469.7h0M653.6 468.8h0M654.5 468.0h0M654.6 471.0h0M657.1 468.7h0M661.3 470.1h0M659.8 467.2h0M661.2 466.9h0M658.3 472.5h0M657.6 464.4h0M661.8 471.9h0M664.9 471.0h0M662.7 471.4h0M664.3 468.8h0M666.8 468.4h0M666.1 468.1h0M670.1 468.3h0M668.9 468.9h0M672.6 467.1h0M667.7 467.5h0M670.5 472.5h0M666.1 468.2h0M672.1 469.2h0M672.3 466.6h0M674.6 469.2h0M673.6 472.6h0M674.6 467.6h0M675.9 464.9h0M679.3 468.8h0M679.4 467.4h0M678.1 470.1h0M677.0 470.3h0M680.1 471.4h0M684.0 470.1h0M679.9 468.3h0M682.3 471.1h0M682.3 469.7h0M681.8 467.5h0M682.9 469.1h0M689.0 469.9h0M687.1 469.4h0M684.9 470.2h0M686.4 467.4h0M689.8 473.4h0M689.0 471.4h0M693.4 469.9h0M691.4 470.8h0M695.1 473.0h0M691.8 470.9h0M693.3 468.6h0M691.6 467.9h0M697.5 469.6h0M697.5 473.6h0M697.8 471.8h0M700.0 466.8h0M696.6 470.6h0M700.6 470.8h0M703.6 466.9h0M698.4 468.4h0M703.2 469.5h0M698.4 464.8h0M699.1 473.5h0M707.5 466.5h0M705.5 471.7h0M707.0 468.2h0M705.3 468.5h0M704.3 471.1h0M712.8 473.9h0M710.5 471.5h0M708.2 468.6h0M711.6 469.5h0M713.5 468.7h0M712.2 467.4h0M715.9 467.2h0M717.6 468.0h0M716.6 464.2h0M716.7 468.8h0M718.0 469.8h0M716.4 470.4h0M722.1 469.0h0M720.8 469.0h0M720.6 466.5h0M721.1 467.0h0M720.9 466.7h0M719.7 470.9h0M726.6 468.7h0M725.6 474.0h0M725.6 470.7h0M725.7 471.4h0M726.3 471.3h0M726.7 471.4h0M731.1 469.3h0M729.9 470.4h0M732.1 473.0h0M733.8 470.4h0M730.2 466.0h0M729.5 465.8h0M736.6 470.6h0M735.5 469.2h0M735.8 472.1h0M737.9 468.4h0M734.3 467.2h0M736.7 464.4h0M741.3 469.6h0M740.4 467.9h0M741.5 466.3h0M740.4 468.3h0M739.7 471.5h0M738.4 470.1h0M746.8 470.8h0M744.4 470.1h0M748.1 466.1h0M746.8 473.0h0M744.3 474.6h0M742.4 471.0h0M753.4 467.6h0M752.6 467.1h0M750.7 468.3h0M752.8 473.3h0M750.4 469.8h0M750.5 469.9h0M755.7 468.9h0M756.3 469.0h0M757.9 469.8h0M754.5 467.3h0M758.5 470.6h0M760.6 471.0h0M762.0 463.5h0M760.7 471.1h0M762.5 465.9h0M762.1 469.9h0M766.5 468.0h0M767.5 470.3h0M763.8 469.9h0M767.5 470.8h0M770.7 472.6h0M771.1 470.0h0M774.0 476.1h0M770.2 468.1h0M771.9 471.1h0M775.7 469.8h0M775.2 469.4h0M777.0 471.7h0M777.4 472.6h0M775.9 466.1h0M779.5 469.2h0M780.2 469.0h0M777.4 465.8h0M780.9 468.9h0M781.4 469.5h0M788.3 472.6h0M785.1 470.9h0M785.9 474.2h0M786.4 469.9h0M786.7 470.6h0M783.1 467.9h0M790.0 469.3h0M791.2 470.2h0M793.6 469.0h0M790.1 469.3h0M787.0 469.0h0M791.6 471.6h0M794.8 467.6h0M792.0 465.7h0M795.2 465.9h0M794.1 466.5h0M795.8 469.8h0M801.2 468.0h0M797.5 468.8h0M802.2 468.5h0M799.4 467.3h0M797.8 465.9h0M801.5 466.8h0M807.1 469.7h0M803.6 470.8h0M800.9 472.3h0M802.8 468.6h0M806.9 469.4h0M805.1 469.8h0M808.5 469.8h0M809.6 469.7h0M806.3 468.1h0M811.2 470.0h0M809.0 474.8h0M810.9 466.4h0M809.8 468.5h0M814.1 470.9h0M814.0 471.4h0M813.7 468.8h0M812.2 474.7h0M817.8 472.0h0M818.0 468.0h0M814.7 464.6h0M817.4 471.5h0M817.9 468.1h0M819.5 465.2h0M820.7 468.4h0M825.5 467.8h0M821.1 465.9h0M823.0 467.3h0M825.9 468.9h0M827.6 469.8h0M829.5 471.8h0M829.1 470.9h0M828.8 467.4h0M827.7 470.4h0M831.8 468.7h0M832.3 467.0h0M835.0 464.8h0M832.1 470.7h0M833.7 464.2h0M836.2 469.7h0M835.6 472.6h0M836.0 473.7h0M837.0 467.4h0M838.7 469.1h0M838.4 469.0h0M837.1 471.8h0M842.8 468.1h0M840.1 466.6h0M843.6 470.9h0M841.7 468.3h0M841.9 469.5h0M847.3 468.1h0M847.8 465.5h0M848.0 470.0h0M845.1 467.9h0M849.9 470.0h0M849.3 469.6h0M853.8 470.1h0M854.3 470.5h0M857.5 466.4h0M852.2 472.9h0M852.5 468.5h0M851.9 470.2h0M859.5 469.5h0M857.0 471.2h0M858.5 469.1h0M857.9 473.3h0M859.9 471.5h0M856.0 472.7h0M862.8 467.5h0M864.6 472.8h0M862.0 470.0h0M863.4 465.6h0M862.5 468.4h0M862.8 467.2h0M865.1 470.8h0M868.4 469.5h0M866.6 467.1h0M864.7 469.8h0M866.3 469.1h0M868.4 471.1h0M872.9 469.8h0M872.3 468.9h0M870.2 468.1h0M868.3 467.4h0M870.9 467.8h0M876.3 466.5h0M876.1 468.0h0M874.7 469.2h0M877.2 468.7h0M876.3 470.4h0M876.8 466.8h0M885.3 466.7h0M881.4 469.5h0M880.6 472.2h0M883.8 472.4h0M879.0 467.1h0M882.6 466.8h0M887.2 469.2h0M887.2 466.4h0M886.9 465.7h0M886.4 469.3h0M884.5 469.1h0M887.3 469.2h0M891.4 469.7h0M893.3 471.0h0M892.5 466.3h0M890.9 466.7h0M890.5 469.1h0M892.2 470.0h0M892.9 471.0h0M894.7 475.1h0M893.8 470.3h0M898.8 469.4h0M895.2 466.2h0M896.3 470.1h0M903.5 467.1h0M901.7 472.9h0M899.1 468.0h0M898.3 469.3h0M898.6 467.1h0M900.8 468.5h0M904.8 467.4h0M907.3 472.0h0M906.0 470.1h0M904.4 467.8h0M904.2 467.3h0M910.1 468.9h0M913.6 464.9h0M907.3 474.7h0M908.8 472.5h0M912.0 465.1h0M915.7 467.6h0M913.1 471.7h0M916.4 465.9h0M916.4 466.4h0M916.0 469.0h0M912.5 465.0h0M918.4 468.4h0M919.6 469.1h0M919.8 471.1h0M920.1 472.8h0M921.3 467.5h0M917.9 472.1h0M923.0 468.6h0M924.6 469.8h0M924.6 469.1h0M926.7 470.2h0M925.1 470.5h0M929.3 471.8h0M929.2 463.3h0M929.2 467.8h0M930.3 471.9h0M930.4 469.4h0M930.6 465.6h0M931.5 467.3h0M934.4 470.3h0M933.5 469.9h0M936.8 468.2h0M935.2 468.2h0M933.6 471.6h0M936.9 470.5h0M939.4 465.8h0M940.4 467.3h0M940.9 469.3h0M939.1 471.5h0M943.7 469.7h0M941.5 469.5h0M943.5 474.4h0M943.9 471.4h0M942.4 467.7h0M947.8 471.4h0M948.0 472.0h0M948.2 467.5h0M949.1 470.3h0M946.8 473.1h0M947.8 467.5h0M953.5 472.1h0M952.5 467.8h0M954.1 472.6h0M955.9 471.8h0M953.7 469.2h0M956.0 467.5h0M957.9 469.6h0M959.6 468.9h0M957.5 469.8h0M958.4 467.5h0M960.7 466.2h0M959.6 464.3h0M958.3 465.6h0M961.3 469.7h0M959.3 467.6h0M960.4 467.7h0M963.8 467.0h0M962.5 467.6h0M966.3 466.8h0M965.8 468.2h0M966.2 464.4h0M962.3 467.1h0M963.7 467.4h0M966.7 464.4h0M969.8 465.4h0M971.6 466.8h0M969.1 466.6h0M966.7 465.1h0M966.2 468.9h0M969.2 469.4h0M968.5 465.1h0M970.2 465.7h0M973.5 463.8h0M976.7 464.7h0M973.3 468.7h0M975.2 469.2h0M972.0 472.3h0M976.5 461.4h0M975.3 466.5h0M972.6 467.6h0M979.8 464.8h0M978.4 466.5h0M977.8 465.0h0M978.4 466.5h0M977.3 468.7h0M979.7 465.8h0M982.4 468.3h0M982.1 461.0h0M985.4 466.4h0M984.0 464.3h0M981.5 466.9h0M979.3 469.3h0M979.4 466.6h0M981.1 463.8h0M988.7 464.8h0M987.0 465.6h0M985.5 462.2h0M986.9 469.5h0M988.0 467.7h0M987.4 467.4h0M987.9 467.0h0M987.7 466.2h0M991.2 467.2h0M992.5 464.1h0M990.7 464.5h0M991.8 466.0h0M991.5 468.0h0M993.1 471.6h0M990.6 466.9h0M996.3 466.5h0M995.5 469.6h0M995.1 467.0h0M995.2 466.5h0M995.8 468.3h0M997.6 467.2h0M996.9 469.0h0M994.4 465.6h0M999.5 469.5h0M999.3 472.1h0M998.7 470.9h0M999.6 469.9h0M1004.1 467.0h0M1001.9 468.1h0M1005.3 466.2h0M1006.4 469.6h0M1003.9 468.7h0M1008.7 467.3h0M1005.3 471.5h0M1005.4 473.3h0M1010.5 473.0h0M1011.4 471.4h0M1010.6 468.5h0M1010.8 468.3h0M1011.2 471.8h0M1008.6 471.6h0M1017.7 471.7h0M1017.0 472.7h0M1013.8 469.4h0M1014.7 470.6h0M1016.2 467.6h0M1016.8 473.4h0M1022.7 467.3h0M1018.1 468.5h0M1019.9 469.2h0M1020.3 471.2h0M1023.1 469.6h0M1022.5 469.0h0M1021.6 469.9h0M1021.9 473.4h0M1024.3 471.2h0M1027.8 467.9h0M1025.3 470.3h0M1028.0 467.7h0M1030.3 470.4h0M1029.4 473.2h0M1031.2 467.4h0M1031.6 471.9h0M1028.9 470.3h0M1029.3 467.1h0M1034.9 468.8h0M1036.3 470.1h0M1033.7 468.3h0M1033.7 468.4h0M1034.9 468.9h0M1036.9 470.9h0M1040.0 468.0h0M1039.5 472.6h0M1038.2 470.6h0M1040.3 467.0h0M1038.0 469.5h0M1043.0 468.6h0M1044.7 469.6h0M1043.5 466.4h0M1045.0 465.3h0M1046.1 471.6h0M1044.9 468.2h0M1054.2 458.2h0M1051.2 468.0h0M1049.5 472.6h0M1057.7 459.6h0M1054.1 466.9h0M1060.8 470.4h0M1057.3 470.0h0M1067.2 462.3h0M1067.0 463.3h0M1066.3 463.6h0M1073.7 460.3h0M1074.6 465.0h0M1073.2 471.3h0M1077.9 460.9h0M1081.4 465.4h0M1081.9 466.2h0M1080.3 454.1h0M1076.7 463.3h0M1080.2 466.7h0M1082.0 468.6h0M1085.1 453.2h0M1089.3 455.8h0M1086.4 461.7h0M1085.4 463.5h0M1086.9 470.5h0M1091.3 455.6h0M1092.7 457.5h0M1090.8 464.5h0M1090.0 473.6h0M1097.5 453.4h0M1096.7 458.3h0M1098.0 464.4h0M1095.5 468.1h0M1097.8 467.8h0M1103.8 466.8h0M1100.3 468.1h0M1102.3 470.7h0M1102.7 464.4h0M1103.7 471.1h0M1105.7 471.2h0M1108.1 467.3h0M1106.0 470.8h0M1105.5 464.9h0M1105.2 471.0h0M1108.5 473.4h0M1113.9 469.7h0M1111.3 472.6h0M1110.6 471.2h0M1108.2 467.8h0M1115.6 471.3h0M1115.0 467.6h0M1114.4 470.2h0M1114.1 468.8h0M1119.1 466.5h0M1116.7 467.3h0M1119.9 462.9h0M1120.8 468.7h0M1117.0 464.3h0M1118.5 469.5h0M1119.8 464.7h0M1121.6 468.9h0M1123.0 470.8h0M1125.5 466.6h0M1122.8 469.7h0M1127.5 468.1h0M1127.7 469.4h0M1126.6 468.9h0M1130.8 469.7h0M1129.5 469.6h0M1133.2 468.3h0M1132.5 469.4h0M1128.2 467.6h0M1127.8 464.8h0M1132.8 466.2h0M1135.4 465.6h0M1134.1 465.8h0M1138.8 467.1h0M1133.6 466.2h0M1136.3 469.9h0M1140.3 468.4h0M1140.7 468.3h0M1140.6 470.4h0M1138.8 467.6h0M1141.2 466.1h0M1142.1 470.8h0M1142.6 454.7h0M1143.4 465.9h0M1150.2 458.5h0M1148.7 459.5h0M1147.1 464.3h0M1149.6 468.6h0M1148.6 471.2h0M1153.5 454.9h0M1157.0 462.8h0M1158.1 461.4h0M1153.5 467.7h0M1154.7 471.2h0M1162.5 458.1h0M1163.8 469.3h0M1169.6 462.3h0M1171.9 468.2h0M1174.6 458.7h0M1176.2 463.4h0M1174.7 468.8h0M1185.3 467.6h0M1198.5 466.3h0M1207.9 466.8h0M1215.9 457.6h0M1213.7 463.4h0M1212.9 463.3h0M1214.3 467.9h0M1219.3 466.6h0M1224.7 456.6h0M1232.9 466.3h0M1239.6 463.3h0M1241.8 458.8h0M1243.2 462.4h0M1241.8 466.4h0M1249.6 450.5h0M1250.1 454.7h0M1250.2 460.8h0M1246.9 469.2h0M1256.0 454.0h0M1258.5 461.5h0M1258.8 460.3h0M1257.4 464.4h0M1259.2 472.1h0M1263.8 453.7h0M1265.0 462.3h0M1264.9 471.8h0M1270.1 455.7h0M1271.4 462.6h0M1269.6 464.1h0M1268.1 466.0h0M1275.7 468.3h0M1280.6 459.7h0M1286.8 458.8h0M1287.2 465.5h0M1293.8 463.0h0M1296.3 463.2h0M1300.5 440.1h0M1300.1 452.3h0M1302.0 454.7h0M1302.6 458.1h0M1298.8 461.7h0M1299.5 467.4h0M1308.0 445.8h0M1304.7 450.2h0M1304.9 463.8h0M1313.1 442.0h0M1309.1 444.6h0M1314.7 446.8h0M1311.5 449.1h0M1313.2 456.4h0M1314.9 464.1h0M1313.1 469.4h0M1316.1 445.9h0M1315.7 453.8h0M1320.1 458.4h0M1317.7 470.3h0M1322.7 441.7h0M1325.0 445.2h0M1322.8 449.2h0M1323.9 456.2h0M1322.5 457.0h0M1321.3 467.7h0M1328.1 437.4h0M1330.9 447.5h0M1329.6 449.5h0M1331.3 460.8h0M1332.0 462.8h0M1343.4 453.2h0M1344.7 458.7h0M1344.7 468.2h0M1350.3 451.0h0M1352.5 456.3h0M1349.2 459.5h0M1350.6 462.3h0M1351.7 466.3h0M1356.2 451.2h0M1357.4 454.0h0M1361.2 459.1h0M1355.8 468.5h0M1363.5 451.7h0M1365.7 457.4h0M1361.7 464.3h0M1361.0 447.9h0M1367.0 447.1h0M1369.8 457.9h0M1366.1 456.8h0M1367.6 462.9h0M1372.8 448.3h0M1374.6 458.2h0M1376.2 459.7h0M1380.0 446.7h0M1380.6 450.0h0M1381.9 452.9h0M1376.9 455.6h0M1373.9 460.2h0M1377.2 460.8h0M1384.0 446.2h0M1384.3 447.1h0M1386.3 449.6h0M1382.9 461.1h0M1383.7 462.6h0M1392.7 446.2h0M1389.8 460.0h0M1391.6 462.3h0M1400.4 442.2h0M1404.4 454.0h0M1402.7 460.0h0M1401.6 461.2h0M1412.2 438.1h0M1409.6 446.3h0M1409.9 453.9h0M1409.0 455.6h0M1409.5 460.0h0M1414.5 441.2h0M1420.0 444.2h0M1415.6 448.9h0M1419.0 458.3h0M1418.5 458.9h0M1422.1 438.8h0M1423.6 449.3h0M1423.0 452.7h0M1432.0 438.1h0M1431.0 449.3h0M1431.3 451.8h0M1430.2 458.3h0M1437.9 441.0h0M1437.1 448.2h0M1437.4 447.8h0M1440.8 453.3h0M1439.3 460.0h0M1445.9 435.7h0M1445.4 446.1h0M1456.1 433.2h0M1457.0 435.6h0M1448.6 441.9h0M1460.5 429.0h0M1459.3 438.0h0M1462.0 441.7h0M1455.8 440.8h0M1458.9 443.5h0M418.1 539.2h0M551.6 554.4h0M480.4 610.4h0M445.2 480.8h0M466.0 476.4h0M526.0 479.9h0M593.4 476.6h0M613.4 487.8h0M1148.4 479.0h0M1164.6 484.0h0M1168.3 479.0h0M1200.4 480.0h0M1219.0 482.3h0M1238.4 484.4h0M1256.0 488.0h0M1279.0 482.0h0M1301.0 482.6h0M1326.8 479.0h0M1350.8 478.8h0M1409.0 475.3h0M1415.0 475.0h0M1379.0 472.5h0M1077.0 480.0h0M1210.0 474.0h0M428.0 478.9h0M283.3 479.0h0M213.5 472.7h0M325.2 483.0h0M302.8 477.3h0M271.4 474.2h0M189.6 483.6h0M166.3 475.5h0M249.0 482.9h0M399.5 484.1h0M1289.7 485.3h0M1214.6 485.5h0M1146.1 479.9h0M1429.4 478.0h0M1125.9 473.7h0M1270.9 486.3h0M1115.1 484.2h0M1331.2 484.5h0M1092.7 472.7h0M1301.3 481.8h0M1325.3 472.7h0M1361.0 472.3h0M1139.0 479.1h0M1135.2 480.6h0M1094.7 428.3h0M1468.9 397.2h0M677.8 408.0h0M984.8 434.1h0M1209.2 418.2h0M363.8 386.8h0M1361.3 428.5h0M646.9 418.8h0M503.7 426.2h0M718.0 434.0h0M1383.6 422.4h0M760.7 428.7h0M1439.5 401.6h0M664.6 391.8h0M1200.6 393.2h0M1166.7 436.7h0M973.3 388.7h0M872.1 387.8h0M676.5 389.1h0M701.4 422.3h0M453.7 402.8h0M342.9 392.0h0M1459.0 433.5h0M1141.7 389.2h0M937.1 414.3h0M945.0 436.6h0M289.8 397.8h0M764.6 390.5h0M1051.3 397.2h0M141.4 393.2h0M1277.1 428.8h0M1298.4 377.9h0M1408.1 419.6h0M1200.0 409.8h0M1436.4 399.1h0M1452.0 389.4h0M1348.1 385.0h0M1357.5 347.7h0M1136.2 363.2h0M1227.7 384.3h0M1473.5 397.1h0M1383.4 404.5h0M1233.5 402.6h0M1406.3 353.1h0M1164.5 415.7h0M1189.8 346.2h0M1271.7 430.8h0M1075.2 428.8h0M1307.3 375.9h0M1317.9 332.0h0M1227.7 385.8h0M1312.4 430.9h0M1449.0 428.8h0M1188.9 426.5h0M1163.7 339.3h0M1461.9 388.3h0M1099.7 424.0h0M1076.6 413.5h0M1216.0 409.7h0M1122.1 408.7h0M1461.5 359.2h0M1112.3 387.7h0M1255.6 402.6h0M1166.2 401.4h0M1452.6 330.6h0M99.4 872.1h0M101.0 949.2h0M99.4 1034.7h0M99.6 1066.5h0M105.3 865.8h0M107.4 950.5h0M104.9 1038.7h0M105.0 1066.9h0M110.5 867.4h0M109.9 963.5h0M110.1 1037.2h0M111.7 1064.0h0M112.5 1106.5h0M116.0 1149.6h0M112.3 1174.1h0M114.6 1186.0h0M121.1 1110.0h0M121.5 1140.6h0M121.1 1174.8h0M120.4 1178.4h0M125.1 1103.9h0M125.3 1141.9h0M123.3 1176.9h0M124.1 1181.1h0M129.5 1190.2h0M129.7 1203.6h0M132.3 1212.0h0M130.7 1222.4h0M136.2 1190.9h0M138.8 1203.4h0M139.0 1216.9h0M139.0 1223.3h0M130.1 858.4h0M131.0 950.1h0M130.1 1044.0h0M130.5 1068.4h0M137.1 864.9h0M135.5 953.1h0M137.4 1043.1h0M135.6 1064.4h0M142.9 1115.6h0M143.7 1142.6h0M145.3 1175.2h0M143.0 1183.8h0M150.8 1112.0h0M150.1 1142.5h0M149.8 1173.8h0M150.6 1180.8h0M158.8 1190.7h0M160.5 1205.1h0M157.5 1215.1h0M159.9 1224.7h0M166.2 1194.0h0M163.4 1204.3h0M163.3 1218.0h0M168.0 1219.2h0M170.3 871.8h0M171.6 959.4h0M170.8 1041.0h0M171.9 1062.1h0M179.0 862.6h0M179.7 936.1h0M179.3 1034.9h0M180.2 1065.5h0M184.9 1123.6h0M183.5 1153.6h0M182.5 1182.1h0M182.2 1182.8h0M193.1 1113.1h0M192.3 1150.2h0M192.5 1172.2h0M191.7 1180.8h0M198.6 1193.1h0M200.5 1202.6h0M198.5 1211.2h0M199.0 1223.0h0M205.5 1192.2h0M206.2 1204.5h0M206.5 1213.0h0M208.9 1220.0h0M226.1 871.0h0M227.2 952.6h0M225.4 1045.2h0M227.3 1068.3h0M238.2 865.1h0M238.9 947.6h0M238.2 1037.2h0M238.9 1059.7h0M237.3 1113.6h0M237.9 1141.6h0M238.4 1173.3h0M239.5 1176.7h0M249.1 1112.1h0M250.3 1137.0h0M249.7 1162.3h0M248.9 1184.1h0M251.0 1191.8h0M252.6 1205.9h0M250.9 1215.9h0M252.5 1218.1h0M260.6 1192.7h0M260.7 1204.2h0M259.9 1213.4h0M261.9 1218.9h0M295.5 879.6h0M295.9 952.7h0M295.1 1038.7h0M295.2 1057.8h0M310.4 872.0h0M311.0 928.1h0M312.1 1034.4h0M310.0 1068.6h0M306.3 1111.9h0M307.8 1141.9h0M306.4 1173.0h0M306.7 1182.4h0M321.3 1100.9h0M320.3 1140.7h0M320.1 1175.7h0M318.2 1183.6h0M317.7 1191.2h0M318.9 1201.5h0M317.1 1218.4h0M316.6 1222.1h0M330.4 1191.3h0M328.7 1207.1h0M329.6 1210.2h0M331.2 1220.4h0M323.0 1223.3h0M328.3 1231.0h0M333.4 1224.4h0M340.8 1228.4h0M377.4 873.7h0M377.5 955.0h0M377.7 1042.5h0M377.4 1069.5h0M394.5 854.0h0M393.0 940.4h0M395.2 1028.2h0M394.4 1058.9h0M386.8 1116.3h0M386.5 1142.1h0M386.7 1167.2h0M386.8 1181.2h0M399.7 1105.2h0M402.6 1137.5h0M401.8 1171.5h0M402.4 1179.9h0M396.2 1193.7h0M396.5 1205.0h0M398.0 1218.7h0M397.0 1223.7h0M410.6 1192.7h0M409.2 1201.3h0M409.9 1215.6h0M409.3 1215.7h0M399.6 1229.9h0M406.2 1230.8h0M416.9 1224.5h0M422.0 1232.0h0M471.6 862.9h0M469.5 954.2h0M469.2 1040.7h0M469.2 1066.9h0M488.7 854.5h0M489.0 936.4h0M487.9 1021.7h0M487.3 1054.7h0M474.6 1106.5h0M474.9 1142.0h0M474.4 1168.1h0M475.8 1187.3h0M493.3 1101.7h0M491.8 1157.4h0M493.2 1170.6h0M494.2 1196.2h0M482.8 1192.2h0M482.1 1205.1h0M482.7 1217.3h0M483.2 1219.2h0M499.9 1186.3h0M500.4 1200.9h0M496.5 1213.2h0M496.9 1218.6h0M489.2 1227.3h0M492.9 1226.7h0M503.1 1225.6h0M510.1 1231.9h0M569.3 868.4h0M569.9 949.1h0M570.0 1033.1h0M568.6 1068.6h0M588.6 846.5h0M588.6 929.5h0M587.8 1024.9h0M589.6 1051.5h0M575.2 1113.3h0M574.5 1138.0h0M573.4 1172.7h0M573.4 1195.5h0M591.1 1101.4h0M590.0 1135.9h0M590.4 1168.3h0M588.3 1186.2h0M578.8 1188.3h0M578.1 1205.4h0M578.0 1218.6h0M577.9 1219.2h0M593.2 1190.5h0M592.0 1201.5h0M593.6 1216.5h0M592.7 1216.1h0M584.0 1225.3h0M588.8 1233.3h0M597.5 1224.0h0M604.3 1233.8h0M674.7 868.8h0M675.3 951.2h0M675.1 1033.9h0M673.8 1077.2h0M689.2 840.6h0M689.3 931.8h0M687.5 1019.1h0M689.2 1055.4h0M677.6 1109.9h0M677.4 1144.1h0M677.7 1182.4h0M675.9 1186.4h0M691.3 1111.8h0M691.2 1134.2h0M693.4 1164.5h0M690.8 1169.9h0M679.4 1190.7h0M678.0 1203.2h0M678.5 1217.6h0M679.8 1220.6h0M692.8 1192.4h0M690.6 1201.8h0M694.4 1215.6h0M691.5 1222.4h0M684.6 1224.7h0M687.3 1230.1h0M695.9 1223.9h0M698.6 1232.1h0M783.7 890.1h0M782.7 952.5h0M782.3 1038.8h0M783.2 1067.6h0M788.2 851.6h0M789.6 944.6h0M788.8 1033.1h0M789.6 1059.8h0M783.4 1115.7h0M782.9 1141.7h0M783.5 1175.3h0M782.4 1185.1h0M788.5 1117.8h0M789.2 1135.4h0M788.2 1183.8h0M788.9 1177.4h0M784.2 1194.9h0M783.4 1203.9h0M783.3 1217.1h0M783.3 1221.7h0M788.2 1187.6h0M788.7 1205.3h0M790.9 1217.6h0M791.3 1217.4h0M892.1 870.4h0M891.3 950.9h0M891.1 1037.6h0M892.7 1061.5h0M897.6 871.2h0M896.0 955.3h0M898.1 1032.1h0M896.9 1076.3h0M888.2 1112.9h0M889.1 1143.3h0M889.2 1175.0h0M888.1 1186.8h0M893.5 1122.7h0M896.2 1146.4h0M895.5 1177.4h0M892.6 1181.3h0M884.7 1189.3h0M888.2 1204.8h0M888.2 1220.5h0M886.8 1220.3h0M893.1 1193.9h0M894.4 1203.4h0M893.4 1215.0h0M890.5 1218.1h0M882.9 1226.2h0M876.6 1231.6h0M874.9 1232.6h0M889.3 1223.1h0M881.7 1227.2h0M877.3 1232.6h0M996.8 866.0h0M997.0 953.2h0M997.4 1047.3h0M998.8 1057.6h0M1003.1 869.7h0M1002.4 953.2h0M1003.8 1049.2h0M1002.9 1064.3h0M992.3 1113.5h0M992.4 1145.4h0M993.3 1173.0h0M992.9 1171.6h0M999.9 1116.9h0M998.7 1142.3h0M997.3 1191.0h0M999.0 1170.1h0M988.4 1194.1h0M988.0 1200.8h0M987.3 1216.0h0M988.9 1221.4h0M993.4 1191.4h0M994.7 1203.3h0M993.0 1213.8h0M993.8 1220.4h0M984.9 1228.5h0M979.3 1231.8h0M972.1 1233.6h0M965.0 1242.6h0M988.9 1223.9h0M983.9 1230.4h0M980.1 1234.1h0M976.0 1242.1h0M1099.2 870.4h0M1097.5 958.6h0M1096.9 1039.0h0M1099.7 1065.0h0M1102.8 870.7h0M1102.9 930.6h0M1104.7 1040.4h0M1103.2 1070.4h0M1092.3 1112.2h0M1092.4 1150.2h0M1091.9 1174.6h0M1090.6 1188.3h0M1098.5 1119.2h0M1096.8 1140.8h0M1097.6 1190.9h0M1096.3 1184.2h0M1082.1 1194.1h0M1086.5 1204.7h0M1084.5 1216.3h0M1082.6 1218.7h0M1088.5 1191.5h0M1089.0 1205.4h0M1086.6 1218.9h0M1088.8 1220.9h0M1078.7 1225.2h0M1075.8 1230.7h0M1066.4 1233.8h0M1064.6 1238.1h0M1085.2 1224.8h0M1079.9 1228.9h0M1075.8 1236.2h0M1070.0 1235.7h0M1191.6 868.0h0M1190.1 954.7h0M1191.5 1057.7h0M1190.7 1061.8h0M1195.0 877.8h0M1196.6 960.7h0M1196.2 1039.6h0M1195.5 1069.2h0M1182.8 1111.0h0M1182.0 1138.2h0M1181.5 1173.1h0M1183.1 1183.8h0M1187.8 1110.2h0M1188.2 1134.8h0M1189.5 1173.2h0M1189.0 1187.7h0M1173.8 1194.0h0M1174.3 1204.8h0M1172.9 1215.2h0M1173.4 1221.3h0M1177.3 1193.6h0M1178.9 1204.2h0M1179.1 1218.2h0M1178.3 1222.9h0M1166.4 1222.7h0M1164.2 1228.0h0M1159.2 1229.4h0M1152.4 1241.8h0M1173.8 1228.4h0M1168.4 1230.3h0M1162.0 1235.5h0M1156.9 1239.7h0M1275.0 851.7h0M1273.8 951.3h0M1273.6 1039.3h0M1272.3 1075.2h0M1278.4 871.2h0M1280.4 942.6h0M1280.9 1046.1h0M1280.0 1067.1h0M1264.4 1105.9h0M1264.0 1142.3h0M1264.9 1173.7h0M1263.3 1180.9h0M1268.9 1111.6h0M1269.4 1149.2h0M1268.5 1174.9h0M1269.8 1182.8h0M1250.7 1196.1h0M1251.7 1203.4h0M1251.2 1218.5h0M1253.1 1219.1h0M1255.8 1194.3h0M1257.3 1208.7h0M1255.5 1216.1h0M1256.9 1219.5h0M1245.0 1223.6h0M1242.2 1232.7h0M1235.6 1234.0h0M1231.7 1241.7h0M1253.4 1222.7h0M1246.4 1228.9h0M1242.1 1236.1h0M1237.8 1238.0h0M1343.7 866.6h0M1344.8 959.7h0M1345.8 1039.2h0M1344.9 1066.0h0M1350.1 869.9h0M1349.8 951.8h0M1350.4 1034.0h0M1350.6 1065.6h0M1333.3 1114.1h0M1334.8 1141.2h0M1333.0 1172.2h0M1334.2 1184.0h0M1339.1 1116.7h0M1338.5 1140.6h0M1337.3 1167.5h0M1337.4 1182.9h0M1320.0 1191.2h0M1322.4 1204.3h0M1318.3 1213.3h0M1321.6 1222.2h0M1324.3 1193.2h0M1325.6 1205.0h0M1327.3 1215.0h0M1325.3 1221.4h0M1314.4 1223.0h0M1310.5 1230.1h0M1304.2 1238.8h0M1299.8 1232.9h0M1320.0 1219.4h0M1315.0 1230.9h0M1312.0 1236.3h0M1306.9 1239.4h0M1401.1 870.9h0M1402.3 972.1h0M1401.8 1040.0h0M1400.6 1079.0h0M1405.1 870.6h0M1406.6 950.1h0M1405.5 1041.4h0M1407.0 1058.0h0M1391.3 1121.0h0M1391.1 1142.8h0M1391.9 1192.5h0M1390.8 1193.3h0M1393.6 1114.4h0M1394.4 1140.4h0M1393.9 1172.5h0M1394.9 1175.6h0M1376.3 1192.1h0M1375.6 1203.3h0M1375.4 1220.3h0M1377.1 1221.9h0M1381.3 1196.3h0M1380.5 1203.6h0M1379.9 1218.1h0M1380.5 1220.9h0M1371.2 1219.4h0M1367.4 1230.3h0M1362.5 1238.7h0M1354.7 1238.9h0M1373.9 1227.4h0M1369.5 1231.1h0M1366.7 1235.7h0M1358.6 1239.4h0M1445.3 878.0h0M1444.7 947.7h0M1445.3 1038.4h0M1445.7 1059.4h0M1447.2 871.2h0M1446.5 950.4h0M1448.0 1040.8h0M1446.1 1070.8h0M1432.4 1105.7h0M1433.3 1142.5h0M1432.6 1192.4h0M1432.9 1184.3h0M1434.5 1115.4h0M1434.5 1144.3h0M1433.6 1177.9h0M1433.5 1182.4h0M1418.3 1192.1h0M1416.4 1206.6h0M1416.4 1217.2h0M1413.6 1222.8h0M1420.6 1194.8h0M1421.8 1207.3h0M1420.9 1220.2h0M1421.5 1219.9h0M1412.1 1227.8h0M1407.1 1230.0h0M1401.9 1234.5h0M1395.3 1240.1h0M1412.8 1224.3h0M1407.7 1229.5h0M1404.3 1232.3h0M1399.3 1241.1h0M1471.1 870.4h0M1470.4 955.7h0M1470.4 1054.2h0M1469.6 1065.3h0M1472.1 865.5h0M1474.3 955.5h0M1473.3 1035.9h0M1472.9 1059.3h0M1478.6 873.0h0M1480.2 950.2h0M1479.6 1047.6h0M1480.4 1067.3h0M1456.7 1130.7h0M1457.4 1142.9h0M1457.3 1175.3h0M1456.0 1187.4h0M1465.9 1120.7h0M1466.0 1145.7h0M1465.3 1154.5h0M1466.0 1181.2h0M1442.0 1194.4h0M1443.0 1202.9h0M1443.1 1215.3h0M1441.0 1215.7h0M1447.3 1198.3h0M1447.0 1206.0h0M1448.2 1214.2h0M1448.2 1222.9h0M1437.0 1222.4h0M1431.2 1232.2h0M1426.8 1232.6h0M1419.6 1237.6h0M1443.2 1224.5h0M1437.0 1230.7h0M1433.8 1240.6h0M1429.6 1234.1h0M420.7 1212.5h0M421.8 1215.2h0M422.4 1220.2h0M422.1 1219.3h0M433.5 1223.9h0M430.7 1223.6h0M432.2 1226.2h0M432.1 1221.9h0M446.6 1228.0h0M444.8 1224.5h0M446.3 1229.8h0M444.7 1230.0h0M507.3 1211.4h0M508.5 1214.6h0M506.5 1221.4h0M506.2 1219.4h0M515.5 1223.9h0M516.9 1226.2h0M527.6 1229.0h0M524.4 1233.4h0M528.7 1231.2h0M526.3 1230.0h0M596.9 1213.3h0M597.7 1213.0h0M604.6 1220.3h0M605.3 1222.4h0M611.9 1223.7h0M613.0 1228.8h0M680.9 1216.7h0M680.9 1213.4h0M682.8 1218.8h0M681.5 1224.3h0M681.5 1228.9h0M683.7 1227.1h0M682.6 1239.4h0M683.1 1237.3h0M689.1 1219.0h0M690.9 1216.9h0M691.3 1222.8h0M689.4 1225.4h0M690.4 1229.6h0M689.5 1229.3h0M689.9 1237.5h0M690.5 1239.1h0M695.9 1219.8h0M694.1 1220.5h0M697.7 1228.9h0M698.7 1224.8h0M695.6 1233.6h0M698.4 1235.8h0M702.6 1222.5h0M702.3 1226.0h0M706.2 1229.3h0M704.9 1229.6h0M700.7 1237.5h0M703.4 1234.5h0M780.6 1215.4h0M782.8 1217.6h0M783.1 1222.6h0M781.1 1219.5h0M783.2 1225.0h0M782.8 1221.6h0M782.1 1228.5h0M780.6 1228.4h0M780.1 1232.3h0M781.3 1231.7h0M783.2 1233.0h0M783.6 1235.5h0M789.4 1214.5h0M789.4 1218.7h0M790.0 1223.1h0M788.2 1220.4h0M788.7 1225.2h0M786.9 1226.8h0M789.2 1225.2h0M791.2 1228.3h0M788.5 1234.6h0M789.6 1235.1h0M789.0 1236.9h0M789.2 1236.0h0M882.4 1211.5h0M882.8 1212.1h0M882.7 1222.4h0M884.7 1223.3h0M882.8 1221.0h0M884.5 1228.8h0M884.1 1233.5h0M882.1 1233.7h0M876.4 1223.3h0M876.8 1220.1h0M875.3 1228.0h0M876.1 1229.4h0M876.8 1233.8h0M876.9 1238.0h0M871.3 1227.9h0M870.4 1226.1h0M871.7 1233.6h0M870.5 1237.5h0M891.1 1215.6h0M893.7 1214.8h0M893.0 1226.2h0M893.1 1228.5h0M980.0 1215.8h0M982.5 1214.7h0M982.9 1221.1h0M981.9 1223.6h0M972.9 1219.7h0M972.5 1215.8h0M973.4 1229.9h0M973.5 1229.9h0M966.2 1229.9h0M966.1 1227.3h0M988.0 1223.8h0M986.3 1224.1h0M988.2 1230.5h0M986.9 1227.3h0M1075.0 1214.1h0M1074.9 1214.2h0M1074.8 1219.5h0M1075.0 1220.3h0M1080.9 1208.7h0M1080.3 1214.0h0M1080.0 1219.7h0M1081.1 1217.0h0M1062.9 1225.6h0M1063.7 1222.0h0M1064.7 1225.2h0M1064.0 1227.0h0M1053.4 1233.3h0M1056.0 1229.3h0M1055.2 1230.8h0M1052.8 1235.2h0M1089.6 1216.5h0M1089.6 1219.9h0M1089.0 1226.1h0M1089.5 1222.5h0M1161.4 1213.2h0M1162.0 1212.2h0M1163.8 1226.0h0M1163.4 1223.0h0M1175.5 1213.3h0M1176.6 1218.9h0M1174.8 1222.2h0M1176.5 1224.7h0M1150.7 1224.3h0M1150.3 1224.3h0M1134.9 1231.5h0M1136.4 1228.6h0M1239.4 1217.7h0M1241.0 1211.8h0M1239.9 1221.0h0M1238.7 1220.6h0M1242.1 1228.7h0M1240.6 1228.6h0M1246.4 1213.1h0M1246.6 1218.0h0M1246.5 1217.5h0M1244.6 1221.5h0M1246.4 1230.2h0M1247.0 1227.6h0M1231.6 1228.8h0M1230.3 1223.9h0M1231.1 1234.7h0M1231.8 1234.5h0M1254.9 1212.0h0M1254.3 1208.5h0M1255.4 1220.4h0M1256.2 1219.8h0M150.0 1221.8h0M148.3 1221.1h0M148.3 1225.4h0M156.3 1223.7h0M158.3 1223.5h0M164.7 1220.8h0M161.9 1224.4h0M166.4 1226.7h0M173.7 1219.2h0M173.2 1222.4h0M175.6 1228.2h0M174.5 1229.9h0M173.3 1234.2h0M178.5 1222.5h0M178.4 1224.8h0M178.4 1239.0h0M183.1 1227.2h0M184.7 1230.3h0M200.7 1222.2h0M197.8 1224.0h0M196.0 1238.7h0M202.7 1217.4h0M201.6 1236.6h0M209.6 1220.6h0M208.3 1226.0h0M207.3 1227.8h0M206.8 1239.8h0M223.6 1220.4h0M224.0 1224.0h0M224.9 1235.0h0M236.8 1232.9h0M241.1 1232.8h0M240.8 1232.7h0M252.3 1216.4h0M251.8 1220.3h0M252.0 1221.8h0M253.8 1226.3h0M249.9 1227.9h0M251.5 1235.1h0M258.4 1229.0h0M258.8 1237.2h0M262.2 1218.8h0M263.3 1229.8h0M265.9 1233.9h0M272.7 1218.3h0M271.3 1219.7h0M271.0 1225.2h0M269.2 1232.7h0M273.6 1235.5h0M269.4 1238.1h0M287.1 1229.2h0M287.1 1235.2h0M295.2 1226.2h0M296.7 1234.7h0M294.8 1237.6h0M307.8 1239.1h0M314.2 1230.6h0M314.4 1236.7h0M313.2 1238.8h0M323.0 1232.3h0M320.2 1239.6h0M334.1 1226.2h0M333.4 1231.5h0M336.4 1238.6h0M335.7 1239.5h0M338.1 1225.9h0M339.4 1235.8h0M343.2 1228.6h0M346.3 1228.5h0M343.4 1233.9h0M343.5 1235.4h0M346.7 1241.2h0M350.3 1226.8h0M352.5 1235.1h0M353.3 1240.8h0M352.1 1245.6h0M360.2 1222.0h0M359.9 1230.8h0M358.3 1239.2h0M357.9 1238.9h0M370.4 1232.4h0M370.0 1239.9h0M373.7 1231.7h0M379.0 1234.9h0M380.7 1238.0h0M382.8 1241.2h0M418.7 1211.2h0M418.7 1224.7h0M422.1 1229.4h0M419.5 1235.2h0M418.5 1235.9h0M420.9 1238.5h0M431.7 1225.3h0M432.3 1229.4h0M431.8 1233.7h0M430.1 1241.1h0M429.5 1239.3h0M434.1 1225.5h0M432.0 1229.2h0M435.1 1233.1h0M435.1 1238.1h0M382.3 1240.5h0M384.4 1238.4h0M385.1 1241.2h0M389.8 1245.3h0M387.3 1240.9h0M393.7 1242.8h0M393.9 1242.1h0M392.0 1242.3h0M394.4 1241.2h0M399.3 1242.0h0M398.1 1242.2h0M397.0 1240.5h0M400.7 1240.3h0M398.6 1242.0h0M400.7 1241.4h0M405.2 1243.6h0M405.8 1241.3h0M403.5 1243.5h0M402.4 1243.8h0M408.8 1240.7h0M410.6 1240.2h0M413.1 1242.2h0M413.5 1243.0h0M412.0 1242.9h0M416.0 1240.3h0M418.6 1243.3h0M416.8 1243.1h0M418.9 1243.2h0M422.7 1239.8h0M422.3 1239.0h0M424.1 1240.2h0M421.3 1241.0h0M423.4 1240.1h0M429.0 1241.9h0M427.6 1242.6h0M428.2 1241.6h0M430.4 1240.3h0M432.4 1244.5h0M437.0 1239.7h0M437.0 1243.3h0M438.9 1242.1h0M439.3 1240.1h0M443.5 1242.7h0M440.9 1240.5h0M442.4 1241.0h0M445.6 1241.8h0M446.9 1242.5h0M451.1 1242.5h0M451.3 1244.8h0M446.4 1240.2h0M455.0 1242.1h0M456.3 1241.2h0M454.3 1242.3h0M457.1 1244.5h0M456.0 1242.0h0M461.8 1240.4h0M459.2 1241.9h0M462.5 1241.5h0M468.9 1240.3h0M464.2 1238.5h0M464.4 1242.6h0M465.1 1240.0h0M468.9 1242.1h0M466.6 1242.9h0M465.6 1241.9h0M468.0 1241.0h0M475.0 1242.2h0M474.3 1241.5h0M469.5 1241.6h0M473.9 1242.8h0M475.3 1239.3h0M477.0 1241.4h0M478.8 1240.2h0M479.6 1241.2h0M483.4 1239.5h0M483.3 1242.2h0M484.8 1241.5h0M484.4 1242.8h0M488.6 1239.2h0M488.9 1241.3h0M486.6 1241.7h0M488.0 1240.9h0M494.8 1243.1h0M491.2 1240.8h0M493.7 1240.5h0M496.2 1241.5h0M495.3 1241.7h0M491.6 1241.3h0M499.9 1241.4h0M497.3 1243.1h0M505.1 1241.0h0M503.6 1242.9h0M501.5 1240.8h0M505.6 1242.1h0M504.8 1240.6h0M504.0 1243.0h0M511.4 1242.1h0M511.7 1242.4h0M509.9 1240.8h0M510.8 1241.7h0M512.2 1238.4h0M511.4 1241.0h0M514.1 1240.7h0M515.5 1240.2h0M517.7 1245.4h0M517.1 1242.1h0M515.9 1241.5h0M523.2 1241.7h0M519.9 1241.2h0M521.3 1241.3h0M529.8 1242.4h0M523.6 1243.2h0M522.4 1241.1h0M528.3 1241.3h0M530.8 1242.8h0M532.9 1241.9h0M537.1 1241.2h0M529.9 1242.3h0M537.2 1244.4h0M537.4 1240.9h0M535.8 1240.8h0M538.7 1240.9h0M538.9 1241.0h0M540.8 1244.3h0M545.2 1241.1h0M547.7 1241.5h0M543.1 1241.4h0M544.9 1244.1h0M547.3 1240.5h0M548.4 1239.8h0M546.3 1242.7h0M549.0 1242.3h0M556.6 1241.3h0M553.0 1242.4h0M555.0 1240.3h0M555.2 1237.7h0M560.3 1242.5h0M559.3 1242.6h0M562.3 1245.2h0M561.3 1240.0h0M563.0 1240.3h0M562.4 1242.9h0M563.5 1242.3h0M570.4 1239.8h0M568.6 1240.7h0M571.7 1241.8h0M570.0 1239.6h0M574.2 1240.5h0M576.6 1238.6h0M575.7 1240.9h0M575.1 1242.6h0M578.3 1242.6h0M579.9 1241.3h0M580.3 1241.0h0M582.9 1239.9h0M588.7 1239.6h0M586.8 1241.4h0M588.8 1240.9h0M591.0 1239.0h0M587.1 1241.6h0M596.4 1240.8h0M589.0 1241.3h0M592.7 1239.6h0M599.1 1244.9h0M598.4 1242.8h0M598.1 1241.7h0M602.9 1243.0h0M602.5 1242.7h0M599.5 1240.4h0M605.7 1241.4h0M604.8 1240.3h0M606.9 1242.6h0M607.9 1242.3h0M610.8 1242.4h0M609.6 1240.7h0M610.9 1241.7h0M611.5 1241.3h0M612.6 1242.7h0M613.8 1238.4h0M613.4 1242.9h0M621.6 1240.3h0M621.8 1240.6h0M620.5 1242.8h0M620.8 1244.7h0M623.9 1243.0h0M625.2 1241.4h0M624.2 1243.1h0M627.8 1240.3h0M629.4 1239.5h0M630.9 1239.4h0M632.4 1242.5h0M634.9 1242.4h0M634.1 1239.1h0M633.2 1241.7h0M640.5 1239.8h0M640.2 1241.2h0M638.6 1242.4h0M639.4 1244.2h0M640.7 1243.2h0M643.3 1243.4h0M642.4 1240.2h0M641.1 1242.2h0M643.8 1242.6h0M648.8 1242.0h0M645.3 1241.4h0M650.8 1242.0h0M648.4 1242.5h0M644.8 1242.9h0M654.0 1242.3h0M653.6 1242.0h0M654.4 1241.9h0M658.1 1242.9h0M657.9 1239.9h0M657.8 1243.8h0M660.2 1240.4h0M659.2 1240.7h0M662.3 1240.6h0M663.8 1243.3h0M662.7 1241.8h0M665.2 1240.2h0M668.4 1242.7h0M668.7 1241.2h0M666.2 1240.0h0M672.0 1240.4h0M672.6 1241.6h0M673.6 1240.7h0M678.1 1241.8h0M678.4 1242.3h0M678.8 1239.1h0M681.0 1241.6h0M680.8 1243.0h0M683.3 1242.7h0M687.3 1242.7h0M685.3 1241.2h0M687.7 1238.4h0M688.4 1242.0h0M685.6 1241.2h0M694.8 1241.9h0M691.9 1243.8h0M694.3 1243.1h0M695.5 1242.0h0M697.1 1243.6h0M698.3 1240.8h0M701.8 1240.3h0M699.4 1244.0h0M700.4 1242.8h0M706.8 1243.9h0M705.9 1239.9h0M705.0 1244.2h0M705.1 1241.5h0M707.8 1242.5h0M709.0 1240.9h0M706.3 1240.9h0M712.3 1242.7h0M712.7 1242.9h0M714.1 1240.1h0M715.7 1241.9h0M715.8 1242.9h0M716.3 1239.4h0M719.1 1244.1h0M719.7 1243.1h0M719.7 1242.0h0M722.8 1240.6h0M721.6 1244.1h0M723.0 1240.2h0M724.1 1238.5h0M728.0 1242.0h0M728.3 1241.2h0M729.6 1241.1h0M729.2 1240.4h0M727.7 1239.6h0M731.0 1241.6h0M733.6 1240.4h0M734.1 1244.1h0M735.5 1240.0h0M740.1 1242.5h0M738.1 1239.8h0M737.2 1242.2h0M742.0 1242.3h0M742.7 1239.1h0M741.0 1243.0h0M742.0 1244.8h0M744.7 1242.0h0M747.6 1241.4h0M750.4 1243.0h0M754.8 1242.3h0M754.6 1241.9h0M756.9 1240.6h0M757.7 1239.2h0M761.1 1241.4h0M761.1 1239.2h0M756.9 1241.2h0M763.6 1242.6h0M762.4 1240.4h0M764.2 1243.5h0M770.9 1242.2h0M768.8 1242.1h0M773.9 1240.2h0M772.6 1242.0h0M775.2 1244.6h0M773.5 1242.9h0M775.4 1244.6h0M776.7 1244.2h0M779.4 1243.2h0M775.5 1241.5h0M778.5 1239.0h0M784.7 1242.6h0M783.9 1243.6h0M787.2 1239.9h0M786.7 1240.2h0M790.1 1243.7h0M784.9 1241.5h0M790.6 1240.3h0M791.2 1242.9h0M795.2 1241.6h0M794.3 1242.5h0M794.3 1240.3h0M794.5 1241.7h0M798.6 1240.7h0M803.8 1242.7h0M801.2 1243.9h0M802.1 1241.5h0M807.0 1242.8h0M810.2 1241.1h0M808.4 1240.6h0M816.6 1241.6h0M814.2 1241.8h0M820.5 1243.9h0M818.8 1240.9h0M814.6 1241.7h0M816.3 1241.9h0M819.9 1244.1h0M820.8 1244.2h0M822.5 1241.4h0M827.9 1242.7h0M825.1 1242.5h0M825.9 1242.6h0M832.5 1240.0h0M828.9 1243.0h0M831.8 1242.4h0M829.1 1240.3h0M832.7 1242.3h0M834.3 1243.6h0M834.2 1243.4h0M837.2 1242.2h0M834.6 1241.4h0M841.2 1240.3h0M838.9 1243.5h0M846.2 1241.2h0M845.7 1242.2h0M843.3 1242.1h0M843.9 1239.9h0M849.3 1242.6h0M847.3 1242.6h0M847.1 1240.8h0M848.9 1240.6h0M853.6 1243.1h0M855.1 1241.5h0M856.6 1243.8h0M854.2 1242.0h0M855.7 1240.9h0M858.0 1242.3h0M859.4 1241.5h0M859.6 1240.6h0M863.4 1243.5h0M862.9 1239.1h0M867.9 1240.2h0M866.7 1242.9h0M864.7 1244.7h0M865.4 1241.3h0M872.0 1244.8h0M873.9 1241.3h0M870.8 1241.2h0M869.0 1243.9h0M875.6 1241.9h0M878.6 1241.7h0M880.2 1241.4h0M877.1 1240.4h0M883.9 1243.5h0M883.7 1241.8h0M881.1 1242.3h0M884.3 1241.0h0M886.2 1240.1h0M883.7 1241.4h0M893.4 1237.2h0M893.3 1240.9h0M891.0 1242.1h0M892.3 1242.5h0M892.7 1240.8h0M894.3 1241.9h0M891.4 1242.0h0M899.0 1239.9h0M897.2 1241.8h0M897.1 1242.8h0M903.6 1242.7h0M898.0 1242.4h0M913.0 1241.4h0M909.5 1243.5h0M910.6 1242.5h0M914.2 1241.9h0M914.9 1243.9h0M914.6 1240.3h0M915.7 1241.4h0M918.3 1243.4h0M922.9 1243.1h0M921.9 1241.9h0M922.2 1241.4h0M927.8 1241.9h0M927.0 1244.3h0M927.7 1244.4h0M929.3 1239.4h0M934.9 1241.3h0M931.3 1242.1h0M935.3 1242.9h0M934.8 1241.9h0M934.9 1241.2h0M935.5 1241.3h0M937.8 1240.1h0M941.4 1243.0h0M943.1 1242.9h0M939.3 1241.5h0M941.0 1241.1h0M944.7 1240.2h0M949.5 1242.8h0M947.2 1240.9h0M951.4 1243.1h0M955.9 1242.1h0M949.7 1241.2h0M953.8 1243.2h0M956.1 1240.6h0M952.9 1242.3h0M955.4 1242.7h0M955.0 1239.8h0M956.3 1242.9h0M959.5 1243.0h0M957.9 1239.4h0M963.0 1244.0h0M963.6 1240.2h0M965.3 1240.3h0M965.4 1241.9h0M965.6 1240.6h0M965.5 1240.6h0M971.7 1239.9h0M968.7 1242.3h0M970.4 1241.0h0M967.2 1241.3h0M971.0 1242.0h0M971.9 1241.3h0M972.3 1242.3h0M971.8 1243.6h0M976.5 1239.9h0M971.8 1242.1h0M980.5 1239.0h0M980.0 1241.6h0M980.5 1240.5h0M981.6 1241.2h0M986.0 1243.4h0M984.4 1241.9h0M987.9 1242.2h0M989.3 1242.4h0M989.4 1240.6h0M991.9 1243.2h0M996.6 1242.3h0M995.4 1242.5h0M999.7 1242.6h0M1000.1 1243.3h0M1003.0 1238.2h0M1002.4 1241.9h0M1004.6 1240.9h0M1008.8 1242.8h0M1007.9 1240.9h0M1006.8 1240.6h0M1006.2 1240.0h0M1013.4 1243.3h0M1011.6 1243.4h0M1015.3 1242.9h0M1015.8 1242.3h0M1012.9 1241.1h0M1018.7 1243.4h0M1016.1 1241.2h0M1019.9 1239.1h0M1019.0 1243.6h0M1025.7 1240.8h0M1023.6 1239.6h0M1025.5 1241.4h0M1029.1 1240.7h0M1029.7 1242.4h0M1027.0 1240.9h0M1029.9 1241.1h0M1031.9 1241.8h0M1030.6 1240.6h0M1033.5 1241.8h0M1032.0 1244.7h0M1036.2 1242.7h0M1038.4 1242.4h0M1037.4 1243.4h0M1040.2 1241.0h0M1038.6 1243.1h0M1042.8 1242.7h0M1043.9 1243.9h0M1044.3 1240.4h0M1047.8 1242.2h0M1049.4 1244.9h0M1047.2 1242.5h0M1047.3 1241.3h0M1052.5 1240.4h0M1051.2 1243.7h0M1053.8 1242.0h0M1055.3 1241.2h0M1057.1 1241.7h0M1058.1 1241.8h0M1058.0 1242.4h0M1056.4 1241.6h0M1058.9 1243.1h0M1065.6 1241.4h0M1064.4 1240.9h0M1066.6 1240.2h0M1064.2 1242.1h0M1067.7 1240.7h0M1067.7 1242.2h0M1071.5 1242.4h0M1073.1 1240.7h0M1075.2 1243.9h0M1073.3 1241.0h0M1073.0 1243.0h0M1081.1 1242.5h0M1077.5 1239.3h0M1079.6 1241.4h0M1080.0 1240.0h0M1081.9 1243.2h0M1081.9 1242.6h0M1086.5 1241.0h0M1089.2 1240.3h0M1090.1 1241.4h0M1091.6 1239.6h0M1091.7 1243.5h0M1092.7 1241.7h0M1094.9 1245.0h0M1094.5 1240.7h0M1094.7 1241.9h0M1099.0 1244.3h0M1098.9 1242.6h0M1097.7 1241.6h0M1100.5 1242.5h0M1099.3 1241.1h0M1102.3 1241.3h0M1107.3 1240.9h0M1106.1 1239.9h0M1108.7 1243.3h0M1109.4 1241.9h0M1111.6 1240.9h0M1118.7 1243.3h0M1114.8 1240.7h0M1112.8 1243.4h0M1116.4 1242.2h0M1115.5 1242.8h0M1116.8 1242.7h0M1115.6 1240.6h0M1120.5 1241.4h0M1121.6 1241.3h0M1119.3 1243.6h0M1121.2 1239.7h0M1124.6 1241.4h0M1125.9 1242.2h0M1123.8 1242.1h0M1128.8 1243.0h0M1125.5 1240.5h0M1131.5 1244.6h0M1134.1 1242.5h0M1134.8 1244.6h0M1132.7 1241.2h0M1137.2 1243.8h0M1137.1 1241.6h0M1138.7 1239.4h0M1142.8 1244.6h0M1139.8 1240.0h0M1142.5 1243.0h0M1140.8 1239.1h0M1140.3 1240.8h0M1140.3 1240.3h0M1139.7 1240.9h0M1141.9 1240.1h0M1144.8 1238.8h0M1143.4 1240.2h0M1149.6 1241.4h0M1149.5 1242.8h0M1147.1 1240.0h0M1147.9 1241.4h0M1152.8 1241.4h0M1148.9 1244.2h0M1154.9 1241.2h0M1156.0 1240.5h0M1161.4 1241.3h0M1161.4 1244.5h0M1159.2 1240.2h0M1166.3 1241.7h0M1164.1 1242.9h0M1163.5 1239.7h0M1165.0 1241.2h0M1166.0 1242.2h0M1166.2 1241.4h0M1169.0 1239.2h0M1172.0 1242.4h0M1171.9 1237.6h0M1171.9 1240.7h0M1175.0 1242.1h0M1174.5 1241.0h0M1175.3 1241.0h0M1179.4 1243.1h0M1177.0 1240.5h0M1180.0 1244.1h0M1177.8 1240.1h0M1183.8 1242.1h0M1182.2 1238.0h0M1184.8 1241.7h0M1184.9 1239.7h0M1185.2 1241.3h0M1189.7 1242.1h0M1189.4 1239.0h0M1190.3 1240.9h0M1192.0 1236.5h0M1194.8 1241.9h0M1198.0 1242.1h0M1197.2 1243.2h0M1196.9 1242.2h0M1199.9 1240.7h0M1199.7 1241.2h0M1199.1 1242.3h0M1207.0 1242.9h0M1207.2 1239.8h0M1209.4 1241.0h0M1206.2 1241.0h0M1211.3 1239.8h0M1209.6 1239.1h0M1215.2 1240.3h0M1212.7 1241.6h0M1214.9 1240.8h0M1213.6 1241.4h0M1217.2 1238.7h0M1220.6 1240.8h0M1221.8 1245.5h0M1220.8 1240.0h0M1219.5 1239.9h0M1227.3 1240.1h0M1223.5 1240.6h0M1223.9 1239.0h0M1228.2 1241.1h0M1231.6 1238.8h0M1225.7 1241.9h0M1228.3 1237.3h0M1233.1 1240.2h0M1232.4 1241.8h0M1233.7 1244.2h0M1236.2 1240.2h0M1232.0 1242.3h0M1143.6 1221.3h0M1147.3 1230.3h0M1152.8 1231.4h0M1157.8 1230.5h0M1204.7 1235.0h0M1222.6 1225.6h0M1223.2 1233.3h0M1230.9 1227.3h0M1226.6 1236.4h0M1256.3 1235.2h0M1295.9 1224.8h0M1302.9 1234.4h0M1309.3 1217.5h0M1308.0 1215.2h0M1310.0 1224.3h0M1308.0 1223.8h0M1313.8 1238.3h0M1316.4 1223.3h0M1322.6 1220.1h0M1321.1 1224.0h0M1325.5 1230.1h0M1321.3 1230.6h0M1339.1 1224.1h0M1344.2 1227.5h0M1342.2 1239.6h0M1346.7 1224.1h0M1350.9 1228.6h0M1351.2 1233.3h0M1352.7 1242.5h0M1360.9 1222.6h0M1359.9 1229.2h0M1360.2 1235.2h0M1366.3 1234.5h0M1366.9 1243.0h0M1363.8 1241.6h0M1373.9 1217.0h0M1377.1 1228.0h0M1372.9 1227.0h0M1375.2 1234.0h0M1372.2 1237.6h0M1379.6 1219.3h0M1379.1 1242.3h0M1396.3 1216.8h0M1405.7 1224.9h0M1403.1 1232.9h0M1403.6 1236.2h0M1425.2 1220.8h0M1420.6 1223.3h0M1429.9 1217.0h0M1428.4 1226.0h0M1441.9 1201.4h0M1441.8 1208.9h0M1438.1 1207.0h0M1440.1 1215.1h0M1440.2 1220.9h0M1448.3 1196.5h0M1447.0 1208.0h0M1443.5 1210.9h0M305.1 1321.7h0M406.5 1307.2h0M350.5 1373.7h0M295.0 1255.6h0M306.7 1252.3h0M315.5 1250.7h0M271.7 1248.3h0M339.4 1255.2h0M358.8 1255.7h0M366.8 1257.3h0M366.8 1251.0h0M370.7 1250.7h0M377.0 1252.8h0M433.0 1254.6h0M436.8 1255.6h0M447.4 1253.8h0M171.8 1242.4h0M181.0 1244.6h0M198.0 1244.0h0M206.7 1246.7h0M224.7 1245.4h0M224.7 1259.0h0M243.4 1251.8h0M259.4 1248.6h0M259.4 1252.0h0M271.7 1248.6h0M797.0 1254.0h0M1011.0 1252.0h0M397.4 1250.7h0M182.4 1255.1h0M444.9 1256.3h0M379.0 1250.3h0M447.0 1244.0h0M469.0 1250.6h0M350.3 1248.7h0M410.3 1249.3h0M190.7 1251.5h0M270.9 1255.8h0M1341.0 1249.0h0M1254.7 1248.6h0M1429.1 1251.2h0M1418.5 1245.4h0M1162.4 1244.5h0M1379.5 1250.7h0M1343.6 1246.4h0M1299.9 1243.8h0M488.2 1207.6h0M1068.8 1176.9h0M468.5 1163.7h0M787.2 1209.7h0M472.3 1199.0h0M1126.5 1187.2h0M278.0 1213.0h0M1317.2 1184.8h0M1030.1 1191.0h0M1072.2 1170.7h0M942.6 1189.2h0M157.0 1193.7h0M713.3 1160.3h0M528.7 1208.8h0M157.4 1177.9h0M1107.5 1201.4h0M352.7 1160.9h0M1270.1 1168.7h0M1212.1 1167.9h0M975.6 1209.8h0M1447.3 1167.2h0M334.0 1187.3h0M1208.0 1164.4h0M1182.6 1176.4h0M928.4 1199.0h0M930.0 1167.6h0M1077.6 1212.4h0M204.3 1195.9h0M738.9 1187.4h0M517.6 1162.9h0M915.0 1177.8h0M271.3 1161.9h0M498.4 1170.3h0M511.0 1193.9h0M1299.2 1184.3h0M210.7 1162.7h0M1040.3 1198.6h0M324.3 1164.2h0M278.8 1161.0h0M1035.7 1212.4h0M91.6 1618.0h0M92.2 1619.6h0M91.7 1621.9h0M92.3 1623.6h0M91.6 1626.2h0M91.6 1628.9h0M91.6 1631.1h0M92.3 1632.9h0M92.0 1635.2h0M91.9 1636.9h0M91.9 1639.3h0M92.1 1641.2h0M92.0 1642.8h0M92.3 1645.5h0M92.2 1647.9h0M91.9 1649.9h0M91.6 1652.1h0M92.4 1653.6h0M92.4 1656.5h0M92.0 1659.7h0M92.0 1662.1h0M91.6 1663.7h0M91.6 1666.3h0M92.2 1669.1h0M92.0 1671.6h0M91.7 1674.6h0M92.0 1676.6h0M91.6 1679.3h0M91.9 1681.3h0M92.2 1684.2h0M92.2 1686.1h0M92.3 1687.8h0M92.2 1871.0h0M92.1 1874.0h0M91.7 1877.2h0M92.0 1879.2h0M92.5 1882.1h0M92.4 1885.2h0M92.4 1887.1h0M92.5 1888.7h0M91.9 1890.8h0M92.1 1893.5h0M91.8 1895.4h0M92.5 1897.1h0M91.6 1899.8h0M92.3 1901.5h0M91.8 1903.3h0M92.0 1906.2h0M92.2 1908.5h0M92.3 1911.4h0M92.1 1913.3h0M91.8 1915.1h0M92.2 1916.7h0M91.7 1918.8h0M91.9 1921.5h0M92.4 1924.3h0M92.5 1927.5h0M92.4 1929.2h0M92.5 1931.0h0M91.8 1933.3h0M92.3 1934.9h0M92.3 1937.7h0M92.0 1939.5h0M91.7 1942.7h0M91.8 1945.4h0M92.0 1947.8h0M91.5 1949.4h0M91.7 1950.8h0M92.1 1953.0h0M91.5 1955.6h0M92.1 1957.3h0M92.2 1959.6h0M91.9 1962.6h0M91.6 1965.3h0M92.3 1967.7h0M92.4 1969.7h0M92.1 1972.7h0M91.6 1976.0h0M91.9 1978.8h0M91.8 1980.8h0M91.8 1983.5h0M91.9 1986.5h0M91.8 1988.3h0M91.7 1989.9h0M92.0 1992.7h0M91.6 1995.1h0M92.0 1997.3h0M92.2 2000.5h0M92.1 2001.9h0M91.7 2003.3h0M92.0 2004.7h0M92.5 2007.3h0M91.6 2008.9h0M91.6 2011.6h0M92.2 2013.8h0M92.4 2016.5h0M91.7 2018.8h0M91.9 2020.5h0M92.4 2021.9h0M92.1 2024.6h0M92.3 2026.9h0M92.2 2028.7h0M92.0 2030.9h0M92.4 2032.7h0M92.0 2034.9h0M92.2 2036.5h0M91.6 2037.9h0M92.2 2040.8h0M92.5 2042.2h0M91.8 2043.7h0M91.9 2045.7h0M92.3 2047.5h0M92.0 2050.7h0M91.8 2052.8h0M92.1 2055.0h0M92.5 2057.1h0M92.4 2060.2h0M92.0 2111.0h0M92.0 2126.0h0M92.0 2181.5h0M437.0 1682.4h0M437.0 1691.0h0M437.0 1698.4h0M437.0 1709.9h0M437.0 1743.2h0M437.0 1750.7h0M436.9 1718.0h0M436.7 1720.6h0M436.6 1723.4h0M437.1 1726.5h0M436.8 1728.2h0M437.1 1730.3h0M436.7 1733.1h0M436.7 1735.0h0M436.8 1737.2h0M436.7 1739.3h0M436.7 1918.0h0M437.2 1919.9h0M437.4 1922.7h0M436.6 1925.2h0M436.5 1927.2h0M437.3 1928.6h0M436.6 1930.5h0M436.7 1932.3h0M436.7 1935.0h0M437.5 1938.1h0M437.3 1939.6h0M437.1 1942.0h0M436.6 1943.9h0M436.5 1945.5h0M437.5 1948.3h0M436.7 1950.8h0M437.0 1973.4h0M436.5 1977.0h0M437.0 1979.3h0M436.9 1981.0h0M436.9 1983.4h0M437.2 1984.8h0M436.5 1986.4h0M436.9 1988.9h0M436.5 1991.6h0M437.1 1993.4h0M436.9 1995.9h0M437.2 1998.9h0M436.7 2000.5h0M437.2 2002.2h0M437.3 2004.4h0M437.1 2007.2h0M436.9 2009.6h0M436.7 2011.7h0M437.0 2014.4h0M437.5 2017.0h0M436.8 2019.6h0M436.8 2022.6h0M437.4 2025.0h0M436.5 2027.1h0M437.2 2029.0h0M436.7 2031.2h0M437.2 2034.1h0M436.6 2036.7h0M436.6 2038.9h0M437.5 2041.6h0M436.8 2044.3h0M436.9 2046.0h0M436.8 2048.6h0M437.1 2051.7h0M437.5 2054.8h0M1126.5 1791.7h0M1126.9 1801.0h0M1126.8 1803.2h0M1126.2 1804.8h0M1126.5 1806.3h0M1127.0 1809.5h0M1126.3 1812.4h0M1126.1 1814.8h0M1126.5 1817.3h0M1126.4 1819.1h0M1126.2 1822.1h0M1126.0 1825.2h0M1126.2 1827.2h0M1126.3 1829.0h0M1126.4 1831.6h0M1126.3 1834.0h0M1126.8 1836.4h0M1126.2 1954.4h0M1126.4 1957.3h0M1126.3 1959.6h0M1126.6 1962.5h0M1126.6 1963.9h0M1126.2 1966.5h0M1127.0 1969.7h0M1126.0 1971.6h0M1126.7 1974.6h0M1126.3 1977.8h0M1126.5 1998.0h0M1126.8 2002.0h0M1126.2 2003.6h0M1126.8 2006.0h0M1126.2 2008.9h0M1127.0 2011.0h0M1126.6 2013.7h0M1126.9 2016.0h0M1126.4 2018.3h0M1126.3 2020.3h0M1126.0 2022.0h0M1126.4 2025.0h0M1126.8 2026.6h0M1126.9 2029.6h0M1126.8 2031.1h0M1126.7 2033.4h0M1126.9 2035.1h0M1126.2 2037.5h0M1126.1 2039.8h0M1471.6 1840.0h0M1471.8 1842.1h0M1471.9 1844.2h0M1471.9 1847.0h0M1471.5 1848.9h0M1471.8 1851.0h0M1471.3 1854.1h0M1471.3 1856.5h0M1472.3 1858.5h0M1471.5 1861.5h0M1472.1 1864.4h0M1471.3 1973.0h0M1472.0 1974.7h0M1471.5 1976.4h0M1471.8 1978.6h0M1472.2 1980.1h0M1471.5 1983.0h0M1471.6 1986.2h0M1471.6 1988.3h0M1471.8 2005.0h0M1472.2 2006.7h0M1471.9 2008.6h0M1472.2 2010.5h0M1471.4 2012.6h0M1471.4 2014.1h0M1471.9 2016.6h0M1472.1 2018.3h0M1471.4 2021.1h0M1471.8 2022.5h0M1471.6 2024.5h0M1471.6 2027.0h0M1471.4 2029.2h0M1471.6 2031.9h0M1471.7 2034.4h0M1471.9 2035.8h0M1472.1 2038.5h0M1472.3 2041.7h0M1472.1 2043.4h0M1471.8 2046.5h0M1471.8 2050.0h0M1471.8 2055.0h0" fill="none" stroke="#e60000" stroke-width="3.8" stroke-linecap="round"/>
<text x="82.5" y="669.0" class="tl" text-anchor="end">-20</text>
<text x="82.5" y="576.7" class="tl" text-anchor="end">-10</text>
<text x="82.5" y="484.4" class="tl" text-anchor="end">0</text>
<text x="82.5" y="392.1" class="tl" text-anchor="end">10</text>
<text x="82.5" y="299.9" class="tl" text-anchor="end">20</text>
<text x="82.5" y="207.6" class="tl" text-anchor="end">30</text>
<text x="82.5" y="115.3" class="tl" text-anchor="end">40</text>
<text x="82.5" y="23.0" class="tl" text-anchor="end">50</text>
<text x="92.0" y="696.5" class="tl" text-anchor="middle">-5</text>
<text x="231.6" y="696.5" class="tl" text-anchor="middle">-4</text>
<text x="371.2" y="696.5" class="tl" text-anchor="middle">-3</text>
<text x="510.8" y="696.5" class="tl" text-anchor="middle">-2</text>
<text x="650.4" y="696.5" class="tl" text-anchor="middle">-1</text>
<text x="790.0" y="696.5" class="tl" text-anchor="middle">0</text>
<text x="929.6" y="696.5" class="tl" text-anchor="middle">1</text>
<text x="1069.2" y="696.5" class="tl" text-anchor="middle">2</text>
<text x="1208.8" y="696.5" class="tl" text-anchor="middle">3</text>
<text x="1348.4" y="696.5" class="tl" text-anchor="middle">4</text>
<text x="1488.0" y="696.5" class="tl" text-anchor="middle">5</text>
<text x="90.5" y="1430.0" class="tl" text-anchor="end">-20</text>
<text x="90.5" y="1343.3" class="tl" text-anchor="end">-10</text>
<text x="90.5" y="1256.6" class="tl" text-anchor="end">0</text>
<text x="90.5" y="1169.9" class="tl" text-anchor="end">10</text>
<text x="90.5" y="1083.1" class="tl" text-anchor="end">20</text>
<text x="90.5" y="996.4" class="tl" text-anchor="end">30</text>
<text x="90.5" y="909.7" class="tl" text-anchor="end">40</text>
<text x="90.5" y="823.0" class="tl" text-anchor="end">50</text>
<text x="100.0" y="1455.3" class="tl" text-anchor="middle">-5</text>
<text x="238.0" y="1455.3" class="tl" text-anchor="middle">-4</text>
<text x="376.0" y="1455.3" class="tl" text-anchor="middle">-3</text>
<text x="514.0" y="1455.3" class="tl" text-anchor="middle">-2</text>
<text x="652.0" y="1455.3" class="tl" text-anchor="middle">-1</text>
<text x="790.0" y="1455.3" class="tl" text-anchor="middle">0</text>
<text x="928.0" y="1455.3" class="tl" text-anchor="middle">1</text>
<text x="1066.0" y="1455.3" class="tl" text-anchor="middle">2</text>
<text x="1204.0" y="1455.3" class="tl" text-anchor="middle">3</text>
<text x="1342.0" y="1455.3" class="tl" text-anchor="middle">4</text>
<text x="1480.0" y="1455.3" class="tl" text-anchor="middle">5</text>
<text x="82.5" y="2240.0" class="tl" text-anchor="end">-20</text>
<text x="82.5" y="2148.3" class="tl" text-anchor="end">-10</text>
<text x="82.5" y="2056.6" class="tl" text-anchor="end">0</text>
<text x="82.5" y="1964.9" class="tl" text-anchor="end">10</text>
<text x="82.5" y="1873.1" class="tl" text-anchor="end">20</text>
<text x="82.5" y="1781.4" class="tl" text-anchor="end">30</text>
<text x="82.5" y="1689.7" class="tl" text-anchor="end">40</text>
<text x="82.5" y="1598.0" class="tl" text-anchor="end">50</text>
<text x="92.0" y="2266.8" class="tl" text-anchor="middle">295</text>
<text x="264.5" y="2266.8" class="tl" text-anchor="middle">300</text>
<text x="437.0" y="2266.8" class="tl" text-anchor="middle">305</text>
<text x="609.5" y="2266.8" class="tl" text-anchor="middle">310</text>
<text x="782.0" y="2266.8" class="tl" text-anchor="middle">315</text>
<text x="954.5" y="2266.8" class="tl" text-anchor="middle">320</text>
<text x="1127.0" y="2266.8" class="tl" text-anchor="middle">325</text>
<text x="1299.5" y="2266.8" class="tl" text-anchor="middle">330</text>
<text x="1472.0" y="2266.8" class="tl" text-anchor="middle">335</text>
<text x="6" y="30.5" class="pl">a</text>
<text x="6" y="822" class="pl">b</text>
<text x="5.5" y="1584.5" class="pl">c</text>
<text x="1414.0" y="746.0" class="tl" style="font-size:33px">&#215;</text><text x="1436.0" y="742.5" class="tl">10</text><text x="1467.2" y="729.0" class="tl" style="font-size:23px">-3</text>
<text x="1407.0" y="1502.0" class="tl" style="font-size:33px">&#215;</text><text x="1428.0" y="1498.5" class="tl">10</text><text x="1459.7" y="1485.6" class="tl" style="font-size:23px">-3</text>
<text x="659.8" y="731.0" class="sf" style="font-size:32px" textLength="258.6" lengthAdjust="spacingAndGlyphs">Input1(x-direction)</text>
<text x="662.4" y="1488.0" class="sf" style="font-size:32px" textLength="253.0" lengthAdjust="spacingAndGlyphs">Input2(z-direction)</text>
<text x="678.8" y="2300.0" class="sf" style="font-size:32px" textLength="204.6" lengthAdjust="spacingAndGlyphs">Input3(T-inlet)</text>
<text transform="translate(26.0,588.9) rotate(-90)" class="sf" style="font-size:31.5px" textLength="507.7" lengthAdjust="spacingAndGlyphs">output(Turbulence Eddy Dissipation)</text>
<text transform="translate(34.5,1356.2) rotate(-90)" class="sf" style="font-size:30.0px" textLength="480.0" lengthAdjust="spacingAndGlyphs">output(Turbulence Eddy Dissipation)</text>
<text transform="translate(26.0,2161.6) rotate(-90)" class="sf" style="font-size:31.5px" textLength="504.0" lengthAdjust="spacingAndGlyphs">output(Turbulence Eddy Dissipation)</text>
<rect x="844.0" y="519.0" width="610.0" height="64.4" fill="#fff" stroke="#666" stroke-width="1.6"/>
<circle cx="875.5" cy="535.5" r="4.9" fill="none" stroke="#000" stroke-width="1.5"/>
<circle cx="875.5" cy="566.3" r="1.5" fill="#e00"/>
<text x="905.8" y="542.4" class="sf" style="font-size:24.5px" textLength="464.6" lengthAdjust="spacingAndGlyphs">CFD results(Turbulence Eddy Dissipation)</text>
<text x="906.5" y="571.6" class="sf" style="font-size:24.5px" textLength="541.6" lengthAdjust="spacingAndGlyphs">ACOFIS prediction(Turbulence Eddy Dissipation)</text>
<rect x="847.5" y="1287.2" width="602.5" height="60.4" fill="#fff" stroke="#666" stroke-width="1.6"/>
<circle cx="878.7" cy="1302.8" r="4.9" fill="none" stroke="#000" stroke-width="1.5"/>
<circle cx="878.7" cy="1331.6" r="1.5" fill="#e00"/>
<text x="908.2" y="1309.2" class="sf" style="font-size:24.5px" textLength="459.1" lengthAdjust="spacingAndGlyphs">CFD results(Turbulence Eddy Dissipation)</text>
<text x="908.9" y="1337.3" class="sf" style="font-size:24.5px" textLength="537.2" lengthAdjust="spacingAndGlyphs">ACOFIS prediction(Turbulence Eddy Dissipation)</text>
<rect x="838.1" y="2084.0" width="602.6" height="63.3" fill="#fff" stroke="#666" stroke-width="1.6"/>
<circle cx="869.5" cy="2100.5" r="4.9" fill="none" stroke="#000" stroke-width="1.5"/>
<circle cx="869.5" cy="2130.8" r="1.5" fill="#e00"/>
<text x="899.3" y="2106.7" class="sf" style="font-size:24.5px" textLength="458.0" lengthAdjust="spacingAndGlyphs">CFD results(Turbulence Eddy Dissipation)</text>
<text x="900.0" y="2136.2" class="sf" style="font-size:24.5px" textLength="537.0" lengthAdjust="spacingAndGlyphs">ACOFIS prediction(Turbulence Eddy Dissipation)</text>
</svg></body></html>
